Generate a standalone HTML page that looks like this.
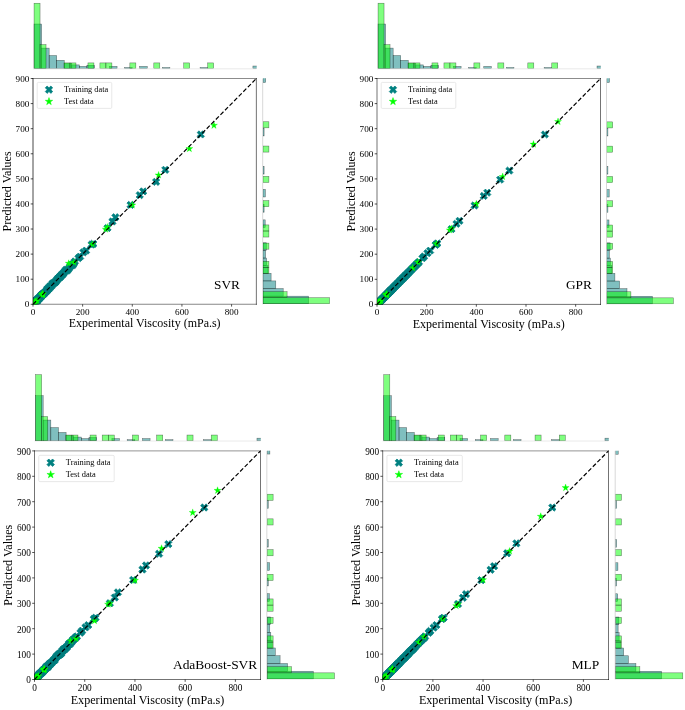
<!DOCTYPE html><html><head><meta charset="utf-8"><title>Predicted vs Experimental Viscosity</title><style>html,body{margin:0;padding:0;background:#fff}svg{display:block}</style></head><body><svg width="685" height="710" viewBox="0 0 685 710" font-family="'Liberation Serif', 'Times New Roman', serif">
<rect width="685" height="710" fill="#fff"/>
<g>
<line x1="33" y1="68.8" x2="256.4" y2="68.8" stroke="#e4e4e4" stroke-width="0.8"/>
<line x1="262.7" y1="78.5" x2="262.7" y2="304.3" stroke="#d4d4d4" stroke-width="0.9"/>
<clipPath id="c0t"><rect x="33" y="0" width="223.7" height="68.6"/></clipPath>
<clipPath id="c0r"><rect x="263" y="78.3" width="90" height="225.8"/></clipPath>
<g clip-path="url(#c0t)" stroke="#000" stroke-opacity="0.55" stroke-width="0.5">
<rect x="34.05" y="24.02" width="7.55" height="44.58" fill="#008080" fill-opacity="0.5"/>
<rect x="41.6" y="48.11" width="7.55" height="20.49" fill="#008080" fill-opacity="0.5"/>
<rect x="49.14" y="55.51" width="7.55" height="13.09" fill="#008080" fill-opacity="0.5"/>
<rect x="56.69" y="60.3" width="7.55" height="8.3" fill="#008080" fill-opacity="0.5"/>
<rect x="64.24" y="63.6" width="7.55" height="5" fill="#008080" fill-opacity="0.5"/>
<rect x="71.78" y="64.9" width="7.55" height="3.7" fill="#008080" fill-opacity="0.5"/>
<rect x="79.33" y="66.4" width="7.55" height="2.2" fill="#008080" fill-opacity="0.5"/>
<rect x="86.88" y="65.3" width="7.55" height="3.3" fill="#008080" fill-opacity="0.5"/>
<rect x="109.52" y="66.4" width="7.55" height="2.2" fill="#008080" fill-opacity="0.5"/>
<rect x="124.61" y="67.5" width="7.55" height="1.1" fill="#008080" fill-opacity="0.5"/>
<rect x="139.7" y="66.4" width="7.55" height="2.2" fill="#008080" fill-opacity="0.5"/>
<rect x="162.34" y="67.5" width="7.55" height="1.1" fill="#008080" fill-opacity="0.5"/>
<rect x="200.08" y="67.5" width="7.55" height="1.1" fill="#008080" fill-opacity="0.5"/>
<rect x="252.9" y="66" width="7.55" height="2.6" fill="#008080" fill-opacity="0.5"/>
<rect x="34.05" y="3.23" width="5.99" height="65.37" fill="#00ff00" fill-opacity="0.5"/>
<rect x="40.04" y="44.61" width="5.99" height="23.99" fill="#00ff00" fill-opacity="0.5"/>
<rect x="63.99" y="62.9" width="5.99" height="5.7" fill="#00ff00" fill-opacity="0.5"/>
<rect x="69.97" y="62.9" width="5.99" height="5.7" fill="#00ff00" fill-opacity="0.5"/>
<rect x="87.94" y="62.9" width="5.99" height="5.7" fill="#00ff00" fill-opacity="0.5"/>
<rect x="99.91" y="62.9" width="5.99" height="5.7" fill="#00ff00" fill-opacity="0.5"/>
<rect x="105.9" y="62.9" width="5.99" height="5.7" fill="#00ff00" fill-opacity="0.5"/>
<rect x="129.85" y="62.9" width="5.99" height="5.7" fill="#00ff00" fill-opacity="0.5"/>
<rect x="153.8" y="62.9" width="5.99" height="5.7" fill="#00ff00" fill-opacity="0.5"/>
<rect x="183.73" y="62.9" width="5.99" height="5.7" fill="#00ff00" fill-opacity="0.5"/>
<rect x="207.68" y="62.9" width="5.99" height="5.7" fill="#00ff00" fill-opacity="0.5"/>
</g>
<g clip-path="url(#c0r)" stroke="#000" stroke-opacity="0.55" stroke-width="0.5">
<rect x="263" y="296.17" width="45.58" height="7.63" fill="#008080" fill-opacity="0.5"/>
<rect x="263" y="288.54" width="20.19" height="7.63" fill="#008080" fill-opacity="0.5"/>
<rect x="263" y="280.91" width="12.79" height="7.63" fill="#008080" fill-opacity="0.5"/>
<rect x="263" y="273.28" width="8.1" height="7.63" fill="#008080" fill-opacity="0.5"/>
<rect x="263" y="265.65" width="5" height="7.63" fill="#008080" fill-opacity="0.5"/>
<rect x="263" y="258.02" width="3.6" height="7.63" fill="#008080" fill-opacity="0.5"/>
<rect x="263" y="250.39" width="2.6" height="7.63" fill="#008080" fill-opacity="0.5"/>
<rect x="263" y="242.76" width="3.3" height="7.63" fill="#008080" fill-opacity="0.5"/>
<rect x="263" y="219.87" width="2.2" height="7.63" fill="#008080" fill-opacity="0.5"/>
<rect x="263" y="204.61" width="1.1" height="7.63" fill="#008080" fill-opacity="0.5"/>
<rect x="263" y="189.36" width="2.4" height="7.63" fill="#008080" fill-opacity="0.5"/>
<rect x="263" y="166.47" width="1.1" height="7.63" fill="#008080" fill-opacity="0.5"/>
<rect x="263" y="128.32" width="1.1" height="7.63" fill="#008080" fill-opacity="0.5"/>
<rect x="263" y="74.91" width="2.7" height="7.63" fill="#008080" fill-opacity="0.5"/>
<rect x="263" y="297.73" width="66.57" height="6.07" fill="#00ff00" fill-opacity="0.5"/>
<rect x="263" y="291.66" width="24.09" height="6.07" fill="#00ff00" fill-opacity="0.5"/>
<rect x="263" y="267.39" width="5.9" height="6.07" fill="#00ff00" fill-opacity="0.5"/>
<rect x="263" y="261.32" width="5.9" height="6.07" fill="#00ff00" fill-opacity="0.5"/>
<rect x="263" y="243.12" width="5.9" height="6.07" fill="#00ff00" fill-opacity="0.5"/>
<rect x="263" y="230.98" width="5.9" height="6.07" fill="#00ff00" fill-opacity="0.5"/>
<rect x="263" y="224.92" width="5.9" height="6.07" fill="#00ff00" fill-opacity="0.5"/>
<rect x="263" y="200.64" width="5.9" height="6.07" fill="#00ff00" fill-opacity="0.5"/>
<rect x="263" y="176.37" width="5.9" height="6.07" fill="#00ff00" fill-opacity="0.5"/>
<rect x="263" y="146.03" width="5.9" height="6.07" fill="#00ff00" fill-opacity="0.5"/>
<rect x="263" y="121.76" width="5.9" height="6.07" fill="#00ff00" fill-opacity="0.5"/>
</g>
<clipPath id="c0m"><rect x="33" y="78.5" width="223.4" height="225.8"/></clipPath>
<g clip-path="url(#c0m)">
<path d="M31.42 299.5 L33.25 301.33 L35.07 299.5 L36.9 301.33 L35.07 303.15 L36.9 304.98 L35.07 306.8 L33.25 304.98 L31.42 306.8 L29.6 304.98 L31.42 303.15 L29.6 301.33Z M31.8 300.36 L33.62 302.19 L35.44 300.36 L37.27 302.19 L35.44 304.01 L37.27 305.83 L35.44 307.66 L33.62 305.83 L31.8 307.66 L29.97 305.83 L31.8 304.01 L29.97 302.19Z M32.17 299.94 L33.99 301.76 L35.82 299.94 L37.64 301.76 L35.82 303.59 L37.64 305.41 L35.82 307.24 L33.99 305.41 L32.17 307.24 L30.34 305.41 L32.17 303.59 L30.34 301.76Z M32.54 299.86 L34.37 301.69 L36.19 299.86 L38.01 301.69 L36.19 303.51 L38.01 305.34 L36.19 307.16 L34.37 305.34 L32.54 307.16 L30.72 305.34 L32.54 303.51 L30.72 301.69Z M32.91 298.42 L34.74 300.24 L36.56 298.42 L38.39 300.24 L36.56 302.07 L38.39 303.89 L36.56 305.71 L34.74 303.89 L32.91 305.71 L31.09 303.89 L32.91 302.07 L31.09 300.24Z M33.29 299.79 L35.11 301.61 L36.93 299.79 L38.76 301.61 L36.93 303.44 L38.76 305.26 L36.93 307.09 L35.11 305.26 L33.29 307.09 L31.46 305.26 L33.29 303.44 L31.46 301.61Z M33.66 297.18 L35.48 299 L37.31 297.18 L39.13 299 L37.31 300.83 L39.13 302.65 L37.31 304.48 L35.48 302.65 L33.66 304.48 L31.83 302.65 L33.66 300.83 L31.83 299Z M34.03 298.19 L35.85 300.01 L37.68 298.19 L39.5 300.01 L37.68 301.83 L39.5 303.66 L37.68 305.48 L35.85 303.66 L34.03 305.48 L32.21 303.66 L34.03 301.83 L32.21 300.01Z M34.4 297.21 L36.23 299.04 L38.05 297.21 L39.88 299.04 L38.05 300.86 L39.88 302.69 L38.05 304.51 L36.23 302.69 L34.4 304.51 L32.58 302.69 L34.4 300.86 L32.58 299.04Z M34.78 297.15 L36.6 298.98 L38.42 297.15 L40.25 298.98 L38.42 300.8 L40.25 302.62 L38.42 304.45 L36.6 302.62 L34.78 304.45 L32.95 302.62 L34.78 300.8 L32.95 298.98Z M35.15 295.83 L36.97 297.65 L38.8 295.83 L40.62 297.65 L38.8 299.48 L40.62 301.3 L38.8 303.13 L36.97 301.3 L35.15 303.13 L33.32 301.3 L35.15 299.48 L33.32 297.65Z M35.52 297.4 L37.34 299.22 L39.17 297.4 L40.99 299.22 L39.17 301.05 L40.99 302.87 L39.17 304.69 L37.34 302.87 L35.52 304.69 L33.7 302.87 L35.52 301.05 L33.7 299.22Z M35.89 296.06 L37.72 297.89 L39.54 296.06 L41.36 297.89 L39.54 299.71 L41.36 301.54 L39.54 303.36 L37.72 301.54 L35.89 303.36 L34.07 301.54 L35.89 299.71 L34.07 297.89Z M36.26 295.72 L38.09 297.54 L39.91 295.72 L41.74 297.54 L39.91 299.37 L41.74 301.19 L39.91 303.02 L38.09 301.19 L36.26 303.02 L34.44 301.19 L36.26 299.37 L34.44 297.54Z M36.64 294.51 L38.46 296.33 L40.29 294.51 L42.11 296.33 L40.29 298.15 L42.11 299.98 L40.29 301.8 L38.46 299.98 L36.64 301.8 L34.81 299.98 L36.64 298.15 L34.81 296.33Z M37.01 295.36 L38.83 297.19 L40.66 295.36 L42.48 297.19 L40.66 299.01 L42.48 300.84 L40.66 302.66 L38.83 300.84 L37.01 302.66 L35.18 300.84 L37.01 299.01 L35.18 297.19Z M37.38 294.47 L39.21 296.3 L41.03 294.47 L42.85 296.3 L41.03 298.12 L42.85 299.95 L41.03 301.77 L39.21 299.95 L37.38 301.77 L35.56 299.95 L37.38 298.12 L35.56 296.3Z M37.75 294.49 L39.58 296.31 L41.4 294.49 L43.23 296.31 L41.4 298.14 L43.23 299.96 L41.4 301.78 L39.58 299.96 L37.75 301.78 L35.93 299.96 L37.75 298.14 L35.93 296.31Z M38.13 293.6 L39.95 295.43 L41.77 293.6 L43.6 295.43 L41.77 297.25 L43.6 299.08 L41.77 300.9 L39.95 299.08 L38.13 300.9 L36.3 299.08 L38.13 297.25 L36.3 295.43Z M38.5 292.93 L40.32 294.75 L42.15 292.93 L43.97 294.75 L42.15 296.58 L43.97 298.4 L42.15 300.23 L40.32 298.4 L38.5 300.23 L36.67 298.4 L38.5 296.58 L36.67 294.75Z M38.87 293.48 L40.69 295.31 L42.52 293.48 L44.34 295.31 L42.52 297.13 L44.34 298.95 L42.52 300.78 L40.69 298.95 L38.87 300.78 L37.05 298.95 L38.87 297.13 L37.05 295.31Z M39.24 291.87 L41.07 293.69 L42.89 291.87 L44.72 293.69 L42.89 295.51 L44.72 297.34 L42.89 299.16 L41.07 297.34 L39.24 299.16 L37.42 297.34 L39.24 295.51 L37.42 293.69Z M39.62 291.62 L41.44 293.45 L43.26 291.62 L45.09 293.45 L43.26 295.27 L45.09 297.1 L43.26 298.92 L41.44 297.1 L39.62 298.92 L37.79 297.1 L39.62 295.27 L37.79 293.45Z M39.99 291.47 L41.81 293.29 L43.64 291.47 L45.46 293.29 L43.64 295.12 L45.46 296.94 L43.64 298.76 L41.81 296.94 L39.99 298.76 L38.16 296.94 L39.99 295.12 L38.16 293.29Z M40.36 290.87 L42.18 292.7 L44.01 290.87 L45.83 292.7 L44.01 294.52 L45.83 296.34 L44.01 298.17 L42.18 296.34 L40.36 298.17 L38.54 296.34 L40.36 294.52 L38.54 292.7Z M40.73 291.37 L42.56 293.19 L44.38 291.37 L46.2 293.19 L44.38 295.02 L46.2 296.84 L44.38 298.67 L42.56 296.84 L40.73 298.67 L38.91 296.84 L40.73 295.02 L38.91 293.19Z M41.1 290.68 L42.93 292.51 L44.75 290.68 L46.58 292.51 L44.75 294.33 L46.58 296.16 L44.75 297.98 L42.93 296.16 L41.1 297.98 L39.28 296.16 L41.1 294.33 L39.28 292.51Z M41.48 290.76 L43.3 292.58 L45.13 290.76 L46.95 292.58 L45.13 294.4 L46.95 296.23 L45.13 298.05 L43.3 296.23 L41.48 298.05 L39.65 296.23 L41.48 294.4 L39.65 292.58Z M41.85 290.01 L43.67 291.84 L45.5 290.01 L47.32 291.84 L45.5 293.66 L47.32 295.48 L45.5 297.31 L43.67 295.48 L41.85 297.31 L40.03 295.48 L41.85 293.66 L40.03 291.84Z M42.22 289.19 L44.05 291.02 L45.87 289.19 L47.69 291.02 L45.87 292.84 L47.69 294.67 L45.87 296.49 L44.05 294.67 L42.22 296.49 L40.4 294.67 L42.22 292.84 L40.4 291.02Z M42.59 289.49 L44.42 291.32 L46.24 289.49 L48.07 291.32 L46.24 293.14 L48.07 294.97 L46.24 296.79 L44.42 294.97 L42.59 296.79 L40.77 294.97 L42.59 293.14 L40.77 291.32Z M42.97 288.95 L44.79 290.78 L46.61 288.95 L48.44 290.78 L46.61 292.6 L48.44 294.43 L46.61 296.25 L44.79 294.43 L42.97 296.25 L41.14 294.43 L42.97 292.6 L41.14 290.78Z M43.34 288.74 L45.16 290.56 L46.99 288.74 L48.81 290.56 L46.99 292.39 L48.81 294.21 L46.99 296.03 L45.16 294.21 L43.34 296.03 L41.51 294.21 L43.34 292.39 L41.51 290.56Z M43.71 288.45 L45.54 290.27 L47.36 288.45 L49.18 290.27 L47.36 292.1 L49.18 293.92 L47.36 295.74 L45.54 293.92 L43.71 295.74 L41.89 293.92 L43.71 292.1 L41.89 290.27Z M44.08 287.98 L45.91 289.8 L47.73 287.98 L49.56 289.8 L47.73 291.62 L49.56 293.45 L47.73 295.27 L45.91 293.45 L44.08 295.27 L42.26 293.45 L44.08 291.62 L42.26 289.8Z M44.46 287.24 L46.28 289.06 L48.1 287.24 L49.93 289.06 L48.1 290.88 L49.93 292.71 L48.1 294.53 L46.28 292.71 L44.46 294.53 L42.63 292.71 L44.46 290.88 L42.63 289.06Z M44.83 287.47 L46.65 289.29 L48.48 287.47 L50.3 289.29 L48.48 291.12 L50.3 292.94 L48.48 294.77 L46.65 292.94 L44.83 294.77 L43 292.94 L44.83 291.12 L43 289.29Z M45.2 286.35 L47.02 288.17 L48.85 286.35 L50.67 288.17 L48.85 290 L50.67 291.82 L48.85 293.64 L47.02 291.82 L45.2 293.64 L43.38 291.82 L45.2 290 L43.38 288.17Z M45.57 285.18 L47.4 287.01 L49.22 285.18 L51.05 287.01 L49.22 288.83 L51.05 290.66 L49.22 292.48 L47.4 290.66 L45.57 292.48 L43.75 290.66 L45.57 288.83 L43.75 287.01Z M45.95 285.31 L47.77 287.14 L49.59 285.31 L51.42 287.14 L49.59 288.96 L51.42 290.79 L49.59 292.61 L47.77 290.79 L45.95 292.61 L44.12 290.79 L45.95 288.96 L44.12 287.14Z M46.07 285.7 L47.89 287.53 L49.72 285.7 L51.54 287.53 L49.72 289.35 L51.54 291.18 L49.72 293 L47.89 291.18 L46.07 293 L44.24 291.18 L46.07 289.35 L44.24 287.53Z M46.69 285.46 L48.51 287.29 L50.34 285.46 L52.16 287.29 L50.34 289.11 L52.16 290.93 L50.34 292.76 L48.51 290.93 L46.69 292.76 L44.87 290.93 L46.69 289.11 L44.87 287.29Z M47.31 284.76 L49.13 286.58 L50.96 284.76 L52.78 286.58 L50.96 288.4 L52.78 290.23 L50.96 292.05 L49.13 290.23 L47.31 292.05 L45.49 290.23 L47.31 288.4 L45.49 286.58Z M47.93 282.78 L49.75 284.61 L51.58 282.78 L53.4 284.61 L51.58 286.43 L53.4 288.26 L51.58 290.08 L49.75 288.26 L47.93 290.08 L46.11 288.26 L47.93 286.43 L46.11 284.61Z M48.55 283.06 L50.38 284.89 L52.2 283.06 L54.02 284.89 L52.2 286.71 L54.02 288.53 L52.2 290.36 L50.38 288.53 L48.55 290.36 L46.73 288.53 L48.55 286.71 L46.73 284.89Z M49.17 282.81 L51 284.64 L52.82 282.81 L54.64 284.64 L52.82 286.46 L54.64 288.29 L52.82 290.11 L51 288.29 L49.17 290.11 L47.35 288.29 L49.17 286.46 L47.35 284.64Z M49.79 281.73 L51.62 283.55 L53.44 281.73 L55.27 283.55 L53.44 285.38 L55.27 287.2 L53.44 289.03 L51.62 287.2 L49.79 289.03 L47.97 287.2 L49.79 285.38 L47.97 283.55Z M50.41 280.05 L52.24 281.87 L54.06 280.05 L55.89 281.87 L54.06 283.7 L55.89 285.52 L54.06 287.35 L52.24 285.52 L50.41 287.35 L48.59 285.52 L50.41 283.7 L48.59 281.87Z M51.03 280.51 L52.86 282.34 L54.68 280.51 L56.51 282.34 L54.68 284.16 L56.51 285.99 L54.68 287.81 L52.86 285.99 L51.03 287.81 L49.21 285.99 L51.03 284.16 L49.21 282.34Z M51.65 279.61 L53.48 281.44 L55.3 279.61 L57.13 281.44 L55.3 283.26 L57.13 285.09 L55.3 286.91 L53.48 285.09 L51.65 286.91 L49.83 285.09 L51.65 283.26 L49.83 281.44Z M52.27 279.16 L54.1 280.98 L55.92 279.16 L57.75 280.98 L55.92 282.81 L57.75 284.63 L55.92 286.46 L54.1 284.63 L52.27 286.46 L50.45 284.63 L52.27 282.81 L50.45 280.98Z M52.9 278.89 L54.72 280.72 L56.54 278.89 L58.37 280.72 L56.54 282.54 L58.37 284.37 L56.54 286.19 L54.72 284.37 L52.9 286.19 L51.07 284.37 L52.9 282.54 L51.07 280.72Z M53.52 278.7 L55.34 280.53 L57.16 278.7 L58.99 280.53 L57.16 282.35 L58.99 284.17 L57.16 286 L55.34 284.17 L53.52 286 L51.69 284.17 L53.52 282.35 L51.69 280.53Z M54.14 277.64 L55.96 279.46 L57.78 277.64 L59.61 279.46 L57.78 281.29 L59.61 283.11 L57.78 284.93 L55.96 283.11 L54.14 284.93 L52.31 283.11 L54.14 281.29 L52.31 279.46Z M54.76 276.93 L56.58 278.76 L58.41 276.93 L60.23 278.76 L58.41 280.58 L60.23 282.41 L58.41 284.23 L56.58 282.41 L54.76 284.23 L52.93 282.41 L54.76 280.58 L52.93 278.76Z M55.38 275.87 L57.2 277.69 L59.03 275.87 L60.85 277.69 L59.03 279.51 L60.85 281.34 L59.03 283.16 L57.2 281.34 L55.38 283.16 L53.55 281.34 L55.38 279.51 L53.55 277.69Z M56 275.1 L57.82 276.92 L59.65 275.1 L61.47 276.92 L59.65 278.75 L61.47 280.57 L59.65 282.4 L57.82 280.57 L56 282.4 L54.17 280.57 L56 278.75 L54.17 276.92Z M56.62 274.42 L58.44 276.25 L60.27 274.42 L62.09 276.25 L60.27 278.07 L62.09 279.89 L60.27 281.72 L58.44 279.89 L56.62 281.72 L54.79 279.89 L56.62 278.07 L54.79 276.25Z M57.24 274.15 L59.06 275.97 L60.89 274.15 L62.71 275.97 L60.89 277.8 L62.71 279.62 L60.89 281.45 L59.06 279.62 L57.24 281.45 L55.41 279.62 L57.24 277.8 L55.41 275.97Z M57.86 273.19 L59.68 275.02 L61.51 273.19 L63.33 275.02 L61.51 276.84 L63.33 278.67 L61.51 280.49 L59.68 278.67 L57.86 280.49 L56.04 278.67 L57.86 276.84 L56.04 275.02Z M58.48 273.47 L60.3 275.29 L62.13 273.47 L63.95 275.29 L62.13 277.12 L63.95 278.94 L62.13 280.77 L60.3 278.94 L58.48 280.77 L56.66 278.94 L58.48 277.12 L56.66 275.29Z M59.1 271.74 L60.92 273.56 L62.75 271.74 L64.57 273.56 L62.75 275.38 L64.57 277.21 L62.75 279.03 L60.92 277.21 L59.1 279.03 L57.28 277.21 L59.1 275.38 L57.28 273.56Z M59.72 271.52 L61.55 273.34 L63.37 271.52 L65.19 273.34 L63.37 275.16 L65.19 276.99 L63.37 278.81 L61.55 276.99 L59.72 278.81 L57.9 276.99 L59.72 275.16 L57.9 273.34Z M60.34 271.34 L62.17 273.16 L63.99 271.34 L65.81 273.16 L63.99 274.99 L65.81 276.81 L63.99 278.63 L62.17 276.81 L60.34 278.63 L58.52 276.81 L60.34 274.99 L58.52 273.16Z M60.96 270.28 L62.79 272.1 L64.61 270.28 L66.44 272.1 L64.61 273.92 L66.44 275.75 L64.61 277.57 L62.79 275.75 L60.96 277.57 L59.14 275.75 L60.96 273.92 L59.14 272.1Z M61.58 269.96 L63.41 271.78 L65.23 269.96 L67.06 271.78 L65.23 273.61 L67.06 275.43 L65.23 277.26 L63.41 275.43 L61.58 277.26 L59.76 275.43 L61.58 273.61 L59.76 271.78Z M62.2 268.67 L64.03 270.49 L65.85 268.67 L67.68 270.49 L65.85 272.31 L67.68 274.14 L65.85 275.96 L64.03 274.14 L62.2 275.96 L60.38 274.14 L62.2 272.31 L60.38 270.49Z M63.2 267.45 L65.02 269.27 L66.84 267.45 L68.67 269.27 L66.84 271.1 L68.67 272.92 L66.84 274.74 L65.02 272.92 L63.2 274.74 L61.37 272.92 L63.2 271.1 L61.37 269.27Z M64.19 266.08 L66.01 267.9 L67.84 266.08 L69.66 267.9 L67.84 269.73 L69.66 271.55 L67.84 273.37 L66.01 271.55 L64.19 273.37 L62.37 271.55 L64.19 269.73 L62.37 267.9Z M65.18 267.05 L67.01 268.87 L68.83 267.05 L70.65 268.87 L68.83 270.7 L70.65 272.52 L68.83 274.35 L67.01 272.52 L65.18 274.35 L63.36 272.52 L65.18 270.7 L63.36 268.87Z M66.18 266.07 L68 267.9 L69.82 266.07 L71.65 267.9 L69.82 269.72 L71.65 271.55 L69.82 273.37 L68 271.55 L66.18 273.37 L64.35 271.55 L66.18 269.72 L64.35 267.9Z M67.17 264.55 L68.99 266.38 L70.82 264.55 L72.64 266.38 L70.82 268.2 L72.64 270.02 L70.82 271.85 L68.99 270.02 L67.17 271.85 L65.34 270.02 L67.17 268.2 L65.34 266.38Z M68.16 263.18 L69.99 265.01 L71.81 263.18 L73.63 265.01 L71.81 266.83 L73.63 268.65 L71.81 270.48 L69.99 268.65 L68.16 270.48 L66.34 268.65 L68.16 266.83 L66.34 265.01Z M69.15 261.78 L70.98 263.61 L72.8 261.78 L74.63 263.61 L72.8 265.43 L74.63 267.25 L72.8 269.08 L70.98 267.25 L69.15 269.08 L67.33 267.25 L69.15 265.43 L67.33 263.61Z M70.15 261.09 L71.97 262.91 L73.8 261.09 L75.62 262.91 L73.8 264.74 L75.62 266.56 L73.8 268.38 L71.97 266.56 L70.15 268.38 L68.32 266.56 L70.15 264.74 L68.32 262.91Z M71.14 261.37 L72.96 263.2 L74.79 261.37 L76.61 263.2 L74.79 265.02 L76.61 266.85 L74.79 268.67 L72.96 266.85 L71.14 268.67 L69.32 266.85 L71.14 265.02 L69.32 263.2Z M72.13 259.42 L73.96 261.25 L75.78 259.42 L77.61 261.25 L75.78 263.07 L77.61 264.9 L75.78 266.72 L73.96 264.9 L72.13 266.72 L70.31 264.9 L72.13 263.07 L70.31 261.25Z M73.13 257.79 L74.95 259.62 L76.77 257.79 L78.6 259.62 L76.77 261.44 L78.6 263.27 L76.77 265.09 L74.95 263.27 L73.13 265.09 L71.3 263.27 L73.13 261.44 L71.3 259.62Z M76.6 254.49 L78.42 256.31 L80.25 254.49 L82.07 256.31 L80.25 258.14 L82.07 259.96 L80.25 261.78 L78.42 259.96 L76.6 261.78 L74.78 259.96 L76.6 258.14 L74.78 256.31Z M78.34 252.98 L80.16 254.81 L81.99 252.98 L83.81 254.81 L81.99 256.63 L83.81 258.46 L81.99 260.28 L80.16 258.46 L78.34 260.28 L76.51 258.46 L78.34 256.63 L76.51 254.81Z M81.56 248.72 L83.39 250.54 L85.21 248.72 L87.04 250.54 L85.21 252.37 L87.04 254.19 L85.21 256.01 L83.39 254.19 L81.56 256.01 L79.74 254.19 L81.56 252.37 L79.74 250.54Z M84.3 246.96 L86.12 248.79 L87.94 246.96 L89.77 248.79 L87.94 250.61 L89.77 252.43 L87.94 254.26 L86.12 252.43 L84.3 254.26 L82.47 252.43 L84.3 250.61 L82.47 248.79Z M89.76 240.94 L91.58 242.76 L93.4 240.94 L95.23 242.76 L93.4 244.59 L95.23 246.41 L93.4 248.24 L91.58 246.41 L89.76 248.24 L87.93 246.41 L89.76 244.59 L87.93 242.76Z M91.49 240.19 L93.32 242.01 L95.14 240.19 L96.97 242.01 L95.14 243.84 L96.97 245.66 L95.14 247.48 L93.32 245.66 L91.49 247.48 L89.67 245.66 L91.49 243.84 L89.67 242.01Z M105.64 224.38 L107.47 226.21 L109.29 224.38 L111.12 226.21 L109.29 228.03 L111.12 229.85 L109.29 231.68 L107.47 229.85 L105.64 231.68 L103.82 229.85 L105.64 228.03 L103.82 226.21Z M110.61 217.86 L112.43 219.68 L114.26 217.86 L116.08 219.68 L114.26 221.51 L116.08 223.33 L114.26 225.16 L112.43 223.33 L110.61 225.16 L108.78 223.33 L110.61 221.51 L108.78 219.68Z M113.59 213.59 L115.41 215.42 L117.23 213.59 L119.06 215.42 L117.23 217.24 L119.06 219.07 L117.23 220.89 L115.41 219.07 L113.59 220.89 L111.76 219.07 L113.59 217.24 L111.76 215.42Z M128.73 201.3 L130.55 203.12 L132.38 201.3 L134.2 203.12 L132.38 204.95 L134.2 206.77 L132.38 208.6 L130.55 206.77 L128.73 208.6 L126.9 206.77 L128.73 204.95 L126.9 203.12Z M137.91 191.51 L139.74 193.34 L141.56 191.51 L143.38 193.34 L141.56 195.16 L143.38 196.99 L141.56 198.81 L139.74 196.99 L137.91 198.81 L136.09 196.99 L137.91 195.16 L136.09 193.34Z M141.39 187.75 L143.21 189.58 L145.03 187.75 L146.86 189.58 L145.03 191.4 L146.86 193.22 L145.03 195.05 L143.21 193.22 L141.39 195.05 L139.56 193.22 L141.39 191.4 L139.56 189.58Z M154.29 178.22 L156.12 180.04 L157.94 178.22 L159.77 180.04 L157.94 181.87 L159.77 183.69 L157.94 185.51 L156.12 183.69 L154.29 185.51 L152.47 183.69 L154.29 181.87 L152.47 180.04Z M163.48 166.18 L165.3 168 L167.13 166.18 L168.95 168 L167.13 169.82 L168.95 171.65 L167.13 173.47 L165.3 171.65 L163.48 173.47 L161.65 171.65 L163.48 169.82 L161.65 168Z M198.97 130.8 L200.8 132.62 L202.62 130.8 L204.45 132.62 L202.62 134.45 L204.45 136.27 L202.62 138.1 L200.8 136.27 L198.97 138.1 L197.15 136.27 L198.97 134.45 L197.15 132.62Z" fill="#008080" stroke="#008080" stroke-width="0.7" stroke-linejoin="round"/>
<path d="M33.5 300.1 L34.33 302.66 L37.01 302.66 L34.84 304.23 L35.67 306.79 L33.5 305.21 L31.32 306.79 L32.15 304.23 L29.98 302.66 L32.67 302.66Z M33.62 299.85 L34.45 302.4 L37.14 302.4 L34.96 303.98 L35.79 306.54 L33.62 304.96 L31.45 306.54 L32.28 303.98 L30.1 302.4 L32.79 302.4Z M33.74 299.85 L34.57 302.4 L37.26 302.4 L35.09 303.98 L35.92 306.54 L33.74 304.96 L31.57 306.54 L32.4 303.98 L30.23 302.4 L32.91 302.4Z M33.87 299.6 L34.7 302.15 L37.39 302.15 L35.21 303.73 L36.04 306.29 L33.87 304.71 L31.69 306.29 L32.53 303.73 L30.35 302.15 L33.04 302.15Z M33.99 299.47 L34.82 302.03 L37.51 302.03 L35.34 303.61 L36.17 306.16 L33.99 304.58 L31.82 306.16 L32.65 303.61 L30.48 302.03 L33.16 302.03Z M34.24 299.35 L35.07 301.9 L37.76 301.9 L35.58 303.48 L36.41 306.04 L34.24 304.46 L32.07 306.04 L32.9 303.48 L30.72 301.9 L33.41 301.9Z M34.49 298.97 L35.32 301.53 L38.01 301.53 L35.83 303.11 L36.66 305.66 L34.49 304.08 L32.32 305.66 L33.15 303.11 L30.97 301.53 L33.66 301.53Z M34.74 298.85 L35.57 301.4 L38.25 301.4 L36.08 302.98 L36.91 305.54 L34.74 303.96 L32.56 305.54 L33.39 302.98 L31.22 301.4 L33.91 301.4Z M34.99 298.47 L35.82 301.02 L38.5 301.02 L36.33 302.6 L37.16 305.16 L34.99 303.58 L32.81 305.16 L33.64 302.6 L31.47 301.02 L34.16 301.02Z M35.23 298.34 L36.06 300.9 L38.75 300.9 L36.58 302.48 L37.41 305.03 L35.23 303.45 L33.06 305.03 L33.89 302.48 L31.72 300.9 L34.4 300.9Z M35.48 297.84 L36.31 300.4 L39 300.4 L36.83 301.98 L37.66 304.53 L35.48 302.95 L33.31 304.53 L34.14 301.98 L31.96 300.4 L34.65 300.4Z M36.97 297.09 L37.8 299.64 L40.49 299.64 L38.32 301.22 L39.15 303.78 L36.97 302.2 L34.8 303.78 L35.63 301.22 L33.45 299.64 L36.14 299.64Z M41.94 291.32 L42.77 293.87 L45.45 293.87 L43.28 295.45 L44.11 298.01 L41.94 296.43 L39.76 298.01 L40.59 295.45 L38.42 293.87 L41.11 293.87Z M42.43 290.82 L43.26 293.37 L45.95 293.37 L43.78 294.95 L44.61 297.51 L42.43 295.93 L40.26 297.51 L41.09 294.95 L38.92 293.37 L41.6 293.37Z M42.56 290.57 L43.39 293.12 L46.07 293.12 L43.9 294.7 L44.73 297.26 L42.56 295.68 L40.38 297.26 L41.21 294.7 L39.04 293.12 L41.73 293.12Z M42.93 290.32 L43.76 292.87 L46.45 292.87 L44.27 294.45 L45.1 297.01 L42.93 295.43 L40.76 297.01 L41.59 294.45 L39.41 292.87 L42.1 292.87Z M68.74 259.71 L69.57 262.26 L72.26 262.26 L70.09 263.84 L70.92 266.4 L68.74 264.82 L66.57 266.4 L67.4 263.84 L65.23 262.26 L67.91 262.26Z M73.96 258.7 L74.79 261.26 L77.47 261.26 L75.3 262.84 L76.13 265.39 L73.96 263.81 L71.78 265.39 L72.61 262.84 L70.44 261.26 L73.13 261.26Z M92.33 240.64 L93.16 243.19 L95.84 243.19 L93.67 244.77 L94.5 247.33 L92.33 245.75 L90.15 247.33 L90.98 244.77 L88.81 243.19 L91.49 243.19Z M105.73 225.59 L106.56 228.14 L109.25 228.14 L107.07 229.72 L107.9 232.28 L105.73 230.7 L103.56 232.28 L104.39 229.72 L102.21 228.14 L104.9 228.14Z M107.47 223.58 L108.3 226.13 L110.98 226.13 L108.81 227.71 L109.64 230.27 L107.47 228.69 L105.29 230.27 L106.12 227.71 L103.95 226.13 L106.64 226.13Z M132.29 201.5 L133.12 204.06 L135.81 204.06 L133.63 205.64 L134.46 208.19 L132.29 206.61 L130.12 208.19 L130.95 205.64 L128.77 204.06 L131.46 204.06Z M158.6 171.39 L159.43 173.95 L162.12 173.95 L159.94 175.53 L160.77 178.08 L158.6 176.5 L156.43 178.08 L157.26 175.53 L155.08 173.95 L157.77 173.95Z M189.38 145.05 L190.21 147.61 L192.9 147.61 L190.72 149.19 L191.55 151.74 L189.38 150.16 L187.21 151.74 L188.04 149.19 L185.86 147.61 L188.55 147.61Z M213.95 121.72 L214.78 124.27 L217.47 124.27 L215.3 125.85 L216.13 128.41 L213.95 126.83 L211.78 128.41 L212.61 125.85 L210.44 124.27 L213.12 124.27Z" fill="#00ff00" stroke="#00ff00" stroke-width="0.3"/>
<line x1="33" y1="304.3" x2="256.4" y2="78.5" stroke="#000" stroke-width="1.2" stroke-dasharray="4.3 2.2"/>
</g>
<line x1="33" y1="78" x2="33" y2="304.8" stroke="#000" stroke-opacity="0.8" stroke-width="0.9"/>
<line x1="32.5" y1="78.5" x2="256.9" y2="78.5" stroke="#000" stroke-opacity="0.45" stroke-width="1.0"/>
<line x1="256.4" y1="78" x2="256.4" y2="304.8" stroke="#000" stroke-opacity="0.5" stroke-width="1.1"/>
<line x1="32.5" y1="304.3" x2="256.9" y2="304.3" stroke="#000" stroke-opacity="0.47" stroke-width="1.1"/>
<path d="M33 304.3h-2.3 M33 279.21h-2.3 M33 254.12h-2.3 M33 229.03h-2.3 M33 203.94h-2.3 M33 178.86h-2.3 M33 153.77h-2.3 M33 128.68h-2.3 M33 103.59h-2.3 M33 78.5h-2.3 M33 304.3v2.3 M82.64 304.3v2.3 M132.29 304.3v2.3 M181.93 304.3v2.3 M231.58 304.3v2.3" stroke="#000" stroke-opacity="0.85" stroke-width="0.8" fill="none"/>
<g font-size="9.2" fill="#000">
<text x="29.4" y="307.33" text-anchor="end">0</text>
<text x="29.4" y="282.25" text-anchor="end">100</text>
<text x="29.4" y="257.16" text-anchor="end">200</text>
<text x="29.4" y="232.07" text-anchor="end">300</text>
<text x="29.4" y="206.98" text-anchor="end">400</text>
<text x="29.4" y="181.89" text-anchor="end">500</text>
<text x="29.4" y="156.8" text-anchor="end">600</text>
<text x="29.4" y="131.71" text-anchor="end">700</text>
<text x="29.4" y="106.62" text-anchor="end">800</text>
<text x="29.4" y="81.53" text-anchor="end">900</text>
<text x="33" y="314.75" text-anchor="middle">0</text>
<text x="82.64" y="314.75" text-anchor="middle">200</text>
<text x="132.29" y="314.75" text-anchor="middle">400</text>
<text x="181.93" y="314.75" text-anchor="middle">600</text>
<text x="231.58" y="314.75" text-anchor="middle">800</text>
</g>
<text x="144.7" y="327.39" text-anchor="middle" font-size="11.99" fill="#000">Experimental Viscosity (mPa.s)</text>
<text transform="translate(10.81 191.4) rotate(-90)" text-anchor="middle" font-size="11.99" fill="#000">Predicted Values</text>
<text x="239.9" y="289.3" text-anchor="end" font-size="13.29" fill="#000">SVR</text>
<rect x="37.2" y="82.4" width="74.57" height="25.99" rx="1.2" fill="#fff" fill-opacity="0.8" stroke="#d9d9d9" stroke-width="0.6"/>
<path d="M47.14 86 L48.99 87.85 L50.84 86 L52.69 87.85 L50.84 89.7 L52.69 91.54 L50.84 93.39 L48.99 91.54 L47.14 93.39 L45.29 91.54 L47.14 89.7 L45.29 87.85Z" fill="#008080" stroke="#008080" stroke-width="0.7" stroke-linejoin="round"/>
<path d="M48.99 97.59 L49.87 100.29 L52.7 100.29 L50.41 101.95 L51.28 104.64 L48.99 102.98 L46.7 104.64 L47.58 101.95 L45.29 100.29 L48.12 100.29Z" fill="#00ff00" stroke="#00ff00" stroke-width="0.5" stroke-linejoin="round"/>
<text x="63.99" y="91.85" font-size="8.3" fill="#000">Training data</text>
<text x="63.99" y="103.84" font-size="8.3" fill="#000">Test data</text>
</g>
<g>
<line x1="377" y1="68.8" x2="600.5" y2="68.8" stroke="#e4e4e4" stroke-width="0.8"/>
<line x1="606.5" y1="78.5" x2="606.5" y2="304.4" stroke="#d4d4d4" stroke-width="0.9"/>
<clipPath id="c1t"><rect x="377" y="0" width="223.8" height="68.6"/></clipPath>
<clipPath id="c1r"><rect x="606.8" y="78.3" width="90" height="225.9"/></clipPath>
<g clip-path="url(#c1t)" stroke="#000" stroke-opacity="0.55" stroke-width="0.5">
<rect x="378.05" y="24" width="7.55" height="44.6" fill="#008080" fill-opacity="0.5"/>
<rect x="385.6" y="48.1" width="7.55" height="20.5" fill="#008080" fill-opacity="0.5"/>
<rect x="393.15" y="55.5" width="7.55" height="13.1" fill="#008080" fill-opacity="0.5"/>
<rect x="400.7" y="60.3" width="7.55" height="8.3" fill="#008080" fill-opacity="0.5"/>
<rect x="408.25" y="63.6" width="7.55" height="5" fill="#008080" fill-opacity="0.5"/>
<rect x="415.8" y="64.9" width="7.55" height="3.7" fill="#008080" fill-opacity="0.5"/>
<rect x="423.35" y="66.4" width="7.55" height="2.2" fill="#008080" fill-opacity="0.5"/>
<rect x="430.9" y="65.3" width="7.55" height="3.3" fill="#008080" fill-opacity="0.5"/>
<rect x="453.55" y="66.4" width="7.55" height="2.2" fill="#008080" fill-opacity="0.5"/>
<rect x="468.65" y="67.5" width="7.55" height="1.1" fill="#008080" fill-opacity="0.5"/>
<rect x="483.75" y="66.4" width="7.55" height="2.2" fill="#008080" fill-opacity="0.5"/>
<rect x="506.4" y="67.5" width="7.55" height="1.1" fill="#008080" fill-opacity="0.5"/>
<rect x="544.15" y="67.5" width="7.55" height="1.1" fill="#008080" fill-opacity="0.5"/>
<rect x="597" y="66" width="7.55" height="2.6" fill="#008080" fill-opacity="0.5"/>
<rect x="378.05" y="3.2" width="5.99" height="65.4" fill="#00ff00" fill-opacity="0.5"/>
<rect x="384.04" y="44.6" width="5.99" height="24" fill="#00ff00" fill-opacity="0.5"/>
<rect x="408" y="62.9" width="5.99" height="5.7" fill="#00ff00" fill-opacity="0.5"/>
<rect x="413.99" y="62.9" width="5.99" height="5.7" fill="#00ff00" fill-opacity="0.5"/>
<rect x="431.96" y="62.9" width="5.99" height="5.7" fill="#00ff00" fill-opacity="0.5"/>
<rect x="443.94" y="62.9" width="5.99" height="5.7" fill="#00ff00" fill-opacity="0.5"/>
<rect x="449.93" y="62.9" width="5.99" height="5.7" fill="#00ff00" fill-opacity="0.5"/>
<rect x="473.89" y="62.9" width="5.99" height="5.7" fill="#00ff00" fill-opacity="0.5"/>
<rect x="497.85" y="62.9" width="5.99" height="5.7" fill="#00ff00" fill-opacity="0.5"/>
<rect x="527.8" y="62.9" width="5.99" height="5.7" fill="#00ff00" fill-opacity="0.5"/>
<rect x="551.76" y="62.9" width="5.99" height="5.7" fill="#00ff00" fill-opacity="0.5"/>
</g>
<g clip-path="url(#c1r)" stroke="#000" stroke-opacity="0.55" stroke-width="0.5">
<rect x="606.8" y="296.27" width="45.6" height="7.63" fill="#008080" fill-opacity="0.5"/>
<rect x="606.8" y="288.63" width="20.2" height="7.63" fill="#008080" fill-opacity="0.5"/>
<rect x="606.8" y="281" width="12.8" height="7.63" fill="#008080" fill-opacity="0.5"/>
<rect x="606.8" y="273.37" width="8.1" height="7.63" fill="#008080" fill-opacity="0.5"/>
<rect x="606.8" y="265.73" width="5" height="7.63" fill="#008080" fill-opacity="0.5"/>
<rect x="606.8" y="258.1" width="3.6" height="7.63" fill="#008080" fill-opacity="0.5"/>
<rect x="606.8" y="250.47" width="2.6" height="7.63" fill="#008080" fill-opacity="0.5"/>
<rect x="606.8" y="242.84" width="3.3" height="7.63" fill="#008080" fill-opacity="0.5"/>
<rect x="606.8" y="219.94" width="2.2" height="7.63" fill="#008080" fill-opacity="0.5"/>
<rect x="606.8" y="204.67" width="1.1" height="7.63" fill="#008080" fill-opacity="0.5"/>
<rect x="606.8" y="189.4" width="2.4" height="7.63" fill="#008080" fill-opacity="0.5"/>
<rect x="606.8" y="166.51" width="1.1" height="7.63" fill="#008080" fill-opacity="0.5"/>
<rect x="606.8" y="128.34" width="1.1" height="7.63" fill="#008080" fill-opacity="0.5"/>
<rect x="606.8" y="74.91" width="2.7" height="7.63" fill="#008080" fill-opacity="0.5"/>
<rect x="606.8" y="297.83" width="66.6" height="6.07" fill="#00ff00" fill-opacity="0.5"/>
<rect x="606.8" y="291.76" width="24.1" height="6.07" fill="#00ff00" fill-opacity="0.5"/>
<rect x="606.8" y="267.49" width="5.9" height="6.07" fill="#00ff00" fill-opacity="0.5"/>
<rect x="606.8" y="261.42" width="5.9" height="6.07" fill="#00ff00" fill-opacity="0.5"/>
<rect x="606.8" y="243.22" width="5.9" height="6.07" fill="#00ff00" fill-opacity="0.5"/>
<rect x="606.8" y="231.08" width="5.9" height="6.07" fill="#00ff00" fill-opacity="0.5"/>
<rect x="606.8" y="225.02" width="5.9" height="6.07" fill="#00ff00" fill-opacity="0.5"/>
<rect x="606.8" y="200.74" width="5.9" height="6.07" fill="#00ff00" fill-opacity="0.5"/>
<rect x="606.8" y="176.47" width="5.9" height="6.07" fill="#00ff00" fill-opacity="0.5"/>
<rect x="606.8" y="146.13" width="5.9" height="6.07" fill="#00ff00" fill-opacity="0.5"/>
<rect x="606.8" y="121.86" width="5.9" height="6.07" fill="#00ff00" fill-opacity="0.5"/>
</g>
<clipPath id="c1m"><rect x="377" y="78.5" width="223.5" height="225.9"/></clipPath>
<g clip-path="url(#c1m)">
<path d="M375.42 300.5 L377.25 302.33 L379.07 300.5 L380.9 302.33 L379.07 304.15 L380.9 305.98 L379.07 307.8 L377.25 305.98 L375.42 307.8 L373.6 305.98 L375.42 304.15 L373.6 302.33Z M375.8 300.12 L377.62 301.95 L379.45 300.12 L381.27 301.95 L379.45 303.77 L381.27 305.6 L379.45 307.42 L377.62 305.6 L375.8 307.42 L373.97 305.6 L375.8 303.77 L373.97 301.95Z M376.17 299.77 L377.99 301.6 L379.82 299.77 L381.64 301.6 L379.82 303.42 L381.64 305.25 L379.82 307.07 L377.99 305.25 L376.17 307.07 L374.34 305.25 L376.17 303.42 L374.34 301.6Z M376.54 299.35 L378.37 301.18 L380.19 299.35 L382.02 301.18 L380.19 303 L382.02 304.83 L380.19 306.65 L378.37 304.83 L376.54 306.65 L374.72 304.83 L376.54 303 L374.72 301.18Z M376.91 299.01 L378.74 300.84 L380.56 299.01 L382.39 300.84 L380.56 302.66 L382.39 304.49 L380.56 306.31 L378.74 304.49 L376.91 306.31 L375.09 304.49 L376.91 302.66 L375.09 300.84Z M377.29 298.63 L379.11 300.45 L380.94 298.63 L382.76 300.45 L380.94 302.28 L382.76 304.1 L380.94 305.93 L379.11 304.1 L377.29 305.93 L375.46 304.1 L377.29 302.28 L375.46 300.45Z M377.66 298.23 L379.48 300.06 L381.31 298.23 L383.13 300.06 L381.31 301.88 L383.13 303.71 L381.31 305.53 L379.48 303.71 L377.66 305.53 L375.83 303.71 L377.66 301.88 L375.83 300.06Z M378.03 297.88 L379.86 299.7 L381.68 297.88 L383.51 299.7 L381.68 301.53 L383.51 303.35 L381.68 305.18 L379.86 303.35 L378.03 305.18 L376.21 303.35 L378.03 301.53 L376.21 299.7Z M378.4 297.5 L380.23 299.32 L382.05 297.5 L383.88 299.32 L382.05 301.15 L383.88 302.97 L382.05 304.8 L380.23 302.97 L378.4 304.8 L376.58 302.97 L378.4 301.15 L376.58 299.32Z M378.78 297.12 L380.6 298.95 L382.43 297.12 L384.25 298.95 L382.43 300.77 L384.25 302.6 L382.43 304.42 L380.6 302.6 L378.78 304.42 L376.95 302.6 L378.78 300.77 L376.95 298.95Z M379.15 296.73 L380.97 298.55 L382.8 296.73 L384.62 298.55 L382.8 300.38 L384.62 302.2 L382.8 304.03 L380.97 302.2 L379.15 304.03 L377.32 302.2 L379.15 300.38 L377.32 298.55Z M379.52 296.33 L381.35 298.16 L383.17 296.33 L385 298.16 L383.17 299.98 L385 301.81 L383.17 303.63 L381.35 301.81 L379.52 303.63 L377.7 301.81 L379.52 299.98 L377.7 298.16Z M379.89 295.98 L381.72 297.81 L383.54 295.98 L385.37 297.81 L383.54 299.63 L385.37 301.46 L383.54 303.28 L381.72 301.46 L379.89 303.28 L378.07 301.46 L379.89 299.63 L378.07 297.81Z M380.27 295.62 L382.09 297.44 L383.92 295.62 L385.74 297.44 L383.92 299.27 L385.74 301.09 L383.92 302.92 L382.09 301.09 L380.27 302.92 L378.44 301.09 L380.27 299.27 L378.44 297.44Z M380.64 295.22 L382.46 297.05 L384.29 295.22 L386.11 297.05 L384.29 298.87 L386.11 300.7 L384.29 302.52 L382.46 300.7 L380.64 302.52 L378.81 300.7 L380.64 298.87 L378.81 297.05Z M381.01 294.86 L382.84 296.68 L384.66 294.86 L386.49 296.68 L384.66 298.51 L386.49 300.33 L384.66 302.16 L382.84 300.33 L381.01 302.16 L379.19 300.33 L381.01 298.51 L379.19 296.68Z M381.38 294.48 L383.21 296.3 L385.03 294.48 L386.86 296.3 L385.03 298.13 L386.86 299.95 L385.03 301.78 L383.21 299.95 L381.38 301.78 L379.56 299.95 L381.38 298.13 L379.56 296.3Z M381.76 294.08 L383.58 295.91 L385.41 294.08 L387.23 295.91 L385.41 297.73 L387.23 299.56 L385.41 301.38 L383.58 299.56 L381.76 301.38 L379.93 299.56 L381.76 297.73 L379.93 295.91Z M382.13 293.73 L383.95 295.56 L385.78 293.73 L387.6 295.56 L385.78 297.38 L387.6 299.21 L385.78 301.03 L383.95 299.21 L382.13 301.03 L380.3 299.21 L382.13 297.38 L380.3 295.56Z M382.5 293.35 L384.33 295.17 L386.15 293.35 L387.98 295.17 L386.15 297 L387.98 298.82 L386.15 300.65 L384.33 298.82 L382.5 300.65 L380.68 298.82 L382.5 297 L380.68 295.17Z M382.87 292.98 L384.7 294.81 L386.52 292.98 L388.35 294.81 L386.52 296.63 L388.35 298.46 L386.52 300.28 L384.7 298.46 L382.87 300.28 L381.05 298.46 L382.87 296.63 L381.05 294.81Z M383.25 292.59 L385.07 294.42 L386.9 292.59 L388.72 294.42 L386.9 296.24 L388.72 298.07 L386.9 299.89 L385.07 298.07 L383.25 299.89 L381.42 298.07 L383.25 296.24 L381.42 294.42Z M383.62 292.21 L385.44 294.04 L387.27 292.21 L389.09 294.04 L387.27 295.86 L389.09 297.69 L387.27 299.51 L385.44 297.69 L383.62 299.51 L381.79 297.69 L383.62 295.86 L381.79 294.04Z M383.99 291.86 L385.82 293.68 L387.64 291.86 L389.47 293.68 L387.64 295.51 L389.47 297.33 L387.64 299.16 L385.82 297.33 L383.99 299.16 L382.17 297.33 L383.99 295.51 L382.17 293.68Z M384.36 291.47 L386.19 293.29 L388.01 291.47 L389.84 293.29 L388.01 295.12 L389.84 296.94 L388.01 298.77 L386.19 296.94 L384.36 298.77 L382.54 296.94 L384.36 295.12 L382.54 293.29Z M384.74 291.09 L386.56 292.92 L388.39 291.09 L390.21 292.92 L388.39 294.74 L390.21 296.57 L388.39 298.39 L386.56 296.57 L384.74 298.39 L382.91 296.57 L384.74 294.74 L382.91 292.92Z M385.11 290.72 L386.93 292.55 L388.76 290.72 L390.58 292.55 L388.76 294.37 L390.58 296.2 L388.76 298.02 L386.93 296.2 L385.11 298.02 L383.28 296.2 L385.11 294.37 L383.28 292.55Z M385.48 290.36 L387.31 292.18 L389.13 290.36 L390.96 292.18 L389.13 294.01 L390.96 295.83 L389.13 297.66 L387.31 295.83 L385.48 297.66 L383.66 295.83 L385.48 294.01 L383.66 292.18Z M385.85 289.98 L387.68 291.81 L389.5 289.98 L391.33 291.81 L389.5 293.63 L391.33 295.46 L389.5 297.28 L387.68 295.46 L385.85 297.28 L384.03 295.46 L385.85 293.63 L384.03 291.81Z M386.23 289.58 L388.05 291.41 L389.88 289.58 L391.7 291.41 L389.88 293.23 L391.7 295.06 L389.88 296.88 L388.05 295.06 L386.23 296.88 L384.4 295.06 L386.23 293.23 L384.4 291.41Z M386.6 289.21 L388.42 291.03 L390.25 289.21 L392.07 291.03 L390.25 292.86 L392.07 294.68 L390.25 296.51 L388.42 294.68 L386.6 296.51 L384.77 294.68 L386.6 292.86 L384.77 291.03Z M386.97 288.78 L388.8 290.6 L390.62 288.78 L392.45 290.6 L390.62 292.43 L392.45 294.25 L390.62 296.08 L388.8 294.25 L386.97 296.08 L385.15 294.25 L386.97 292.43 L385.15 290.6Z M387.34 288.5 L389.17 290.33 L390.99 288.5 L392.82 290.33 L390.99 292.15 L392.82 293.98 L390.99 295.8 L389.17 293.98 L387.34 295.8 L385.52 293.98 L387.34 292.15 L385.52 290.33Z M387.72 288.07 L389.54 289.9 L391.37 288.07 L393.19 289.9 L391.37 291.72 L393.19 293.55 L391.37 295.37 L389.54 293.55 L387.72 295.37 L385.89 293.55 L387.72 291.72 L385.89 289.9Z M388.09 287.69 L389.91 289.51 L391.74 287.69 L393.56 289.51 L391.74 291.34 L393.56 293.16 L391.74 294.99 L389.91 293.16 L388.09 294.99 L386.26 293.16 L388.09 291.34 L386.26 289.51Z M388.46 287.29 L390.29 289.11 L392.11 287.29 L393.94 289.11 L392.11 290.94 L393.94 292.76 L392.11 294.59 L390.29 292.76 L388.46 294.59 L386.64 292.76 L388.46 290.94 L386.64 289.11Z M388.83 286.93 L390.66 288.76 L392.48 286.93 L394.31 288.76 L392.48 290.58 L394.31 292.41 L392.48 294.23 L390.66 292.41 L388.83 294.23 L387.01 292.41 L388.83 290.58 L387.01 288.76Z M389.21 286.59 L391.03 288.42 L392.86 286.59 L394.68 288.42 L392.86 290.24 L394.68 292.07 L392.86 293.89 L391.03 292.07 L389.21 293.89 L387.38 292.07 L389.21 290.24 L387.38 288.42Z M389.58 286.19 L391.4 288.02 L393.23 286.19 L395.05 288.02 L393.23 289.84 L395.05 291.67 L393.23 293.49 L391.4 291.67 L389.58 293.49 L387.75 291.67 L389.58 289.84 L387.75 288.02Z M389.95 285.8 L391.78 287.63 L393.6 285.8 L395.43 287.63 L393.6 289.45 L395.43 291.28 L393.6 293.1 L391.78 291.28 L389.95 293.1 L388.13 291.28 L389.95 289.45 L388.13 287.63Z M390.07 285.7 L391.9 287.52 L393.72 285.7 L395.55 287.52 L393.72 289.35 L395.55 291.17 L393.72 293 L391.9 291.17 L390.07 293 L388.25 291.17 L390.07 289.35 L388.25 287.52Z M390.7 285.04 L392.52 286.87 L394.35 285.04 L396.17 286.87 L394.35 288.69 L396.17 290.52 L394.35 292.34 L392.52 290.52 L390.7 292.34 L388.87 290.52 L390.7 288.69 L388.87 286.87Z M391.32 284.49 L393.14 286.31 L394.97 284.49 L396.79 286.31 L394.97 288.14 L396.79 289.96 L394.97 291.79 L393.14 289.96 L391.32 291.79 L389.49 289.96 L391.32 288.14 L389.49 286.31Z M391.94 283.75 L393.76 285.58 L395.59 283.75 L397.41 285.58 L395.59 287.4 L397.41 289.23 L395.59 291.05 L393.76 289.23 L391.94 291.05 L390.11 289.23 L391.94 287.4 L390.11 285.58Z M392.56 283.13 L394.38 284.96 L396.21 283.13 L398.03 284.96 L396.21 286.78 L398.03 288.61 L396.21 290.43 L394.38 288.61 L392.56 290.43 L390.73 288.61 L392.56 286.78 L390.73 284.96Z M393.18 282.56 L395 284.39 L396.83 282.56 L398.65 284.39 L396.83 286.21 L398.65 288.04 L396.83 289.86 L395 288.04 L393.18 289.86 L391.35 288.04 L393.18 286.21 L391.35 284.39Z M393.8 281.9 L395.62 283.73 L397.45 281.9 L399.27 283.73 L397.45 285.55 L399.27 287.38 L397.45 289.2 L395.62 287.38 L393.8 289.2 L391.98 287.38 L393.8 285.55 L391.98 283.73Z M394.42 281.3 L396.25 283.12 L398.07 281.3 L399.9 283.12 L398.07 284.95 L399.9 286.77 L398.07 288.6 L396.25 286.77 L394.42 288.6 L392.6 286.77 L394.42 284.95 L392.6 283.12Z M395.04 280.7 L396.87 282.52 L398.69 280.7 L400.52 282.52 L398.69 284.35 L400.52 286.17 L398.69 288 L396.87 286.17 L395.04 288 L393.22 286.17 L395.04 284.35 L393.22 282.52Z M395.66 280.04 L397.49 281.86 L399.31 280.04 L401.14 281.86 L399.31 283.69 L401.14 285.51 L399.31 287.34 L397.49 285.51 L395.66 287.34 L393.84 285.51 L395.66 283.69 L393.84 281.86Z M396.28 279.38 L398.11 281.2 L399.93 279.38 L401.76 281.2 L399.93 283.03 L401.76 284.85 L399.93 286.68 L398.11 284.85 L396.28 286.68 L394.46 284.85 L396.28 283.03 L394.46 281.2Z M396.9 278.8 L398.73 280.63 L400.55 278.8 L402.38 280.63 L400.55 282.45 L402.38 284.28 L400.55 286.1 L398.73 284.28 L396.9 286.1 L395.08 284.28 L396.9 282.45 L395.08 280.63Z M397.53 278.18 L399.35 280 L401.18 278.18 L403 280 L401.18 281.83 L403 283.65 L401.18 285.48 L399.35 283.65 L397.53 285.48 L395.7 283.65 L397.53 281.83 L395.7 280Z M398.15 277.54 L399.97 279.36 L401.8 277.54 L403.62 279.36 L401.8 281.19 L403.62 283.01 L401.8 284.84 L399.97 283.01 L398.15 284.84 L396.32 283.01 L398.15 281.19 L396.32 279.36Z M398.77 276.89 L400.59 278.71 L402.42 276.89 L404.24 278.71 L402.42 280.54 L404.24 282.36 L402.42 284.19 L400.59 282.36 L398.77 284.19 L396.94 282.36 L398.77 280.54 L396.94 278.71Z M399.39 276.22 L401.21 278.05 L403.04 276.22 L404.86 278.05 L403.04 279.87 L404.86 281.7 L403.04 283.52 L401.21 281.7 L399.39 283.52 L397.56 281.7 L399.39 279.87 L397.56 278.05Z M400.01 275.68 L401.83 277.5 L403.66 275.68 L405.48 277.5 L403.66 279.33 L405.48 281.15 L403.66 282.98 L401.83 281.15 L400.01 282.98 L398.18 281.15 L400.01 279.33 L398.18 277.5Z M400.63 275 L402.45 276.82 L404.28 275 L406.1 276.82 L404.28 278.65 L406.1 280.47 L404.28 282.3 L402.45 280.47 L400.63 282.3 L398.8 280.47 L400.63 278.65 L398.8 276.82Z M401.25 274.38 L403.07 276.21 L404.9 274.38 L406.72 276.21 L404.9 278.03 L406.72 279.86 L404.9 281.68 L403.07 279.86 L401.25 281.68 L399.43 279.86 L401.25 278.03 L399.43 276.21Z M401.87 273.86 L403.7 275.68 L405.52 273.86 L407.35 275.68 L405.52 277.51 L407.35 279.33 L405.52 281.16 L403.7 279.33 L401.87 281.16 L400.05 279.33 L401.87 277.51 L400.05 275.68Z M402.49 273.16 L404.32 274.99 L406.14 273.16 L407.97 274.99 L406.14 276.81 L407.97 278.64 L406.14 280.46 L404.32 278.64 L402.49 280.46 L400.67 278.64 L402.49 276.81 L400.67 274.99Z M403.11 272.52 L404.94 274.34 L406.76 272.52 L408.59 274.34 L406.76 276.17 L408.59 277.99 L406.76 279.82 L404.94 277.99 L403.11 279.82 L401.29 277.99 L403.11 276.17 L401.29 274.34Z M403.73 271.89 L405.56 273.71 L407.38 271.89 L409.21 273.71 L407.38 275.54 L409.21 277.36 L407.38 279.19 L405.56 277.36 L403.73 279.19 L401.91 277.36 L403.73 275.54 L401.91 273.71Z M404.35 271.24 L406.18 273.07 L408 271.24 L409.83 273.07 L408 274.89 L409.83 276.72 L408 278.54 L406.18 276.72 L404.35 278.54 L402.53 276.72 L404.35 274.89 L402.53 273.07Z M404.98 270.74 L406.8 272.57 L408.62 270.74 L410.45 272.57 L408.62 274.39 L410.45 276.22 L408.62 278.04 L406.8 276.22 L404.98 278.04 L403.15 276.22 L404.98 274.39 L403.15 272.57Z M405.6 270 L407.42 271.82 L409.25 270 L411.07 271.82 L409.25 273.65 L411.07 275.47 L409.25 277.3 L407.42 275.47 L405.6 277.3 L403.77 275.47 L405.6 273.65 L403.77 271.82Z M406.22 269.41 L408.04 271.24 L409.87 269.41 L411.69 271.24 L409.87 273.06 L411.69 274.89 L409.87 276.71 L408.04 274.89 L406.22 276.71 L404.39 274.89 L406.22 273.06 L404.39 271.24Z M407.21 268.45 L409.03 270.28 L410.86 268.45 L412.68 270.28 L410.86 272.1 L412.68 273.93 L410.86 275.75 L409.03 273.93 L407.21 275.75 L405.38 273.93 L407.21 272.1 L405.38 270.28Z M408.2 267.34 L410.03 269.16 L411.85 267.34 L413.68 269.16 L411.85 270.99 L413.68 272.81 L411.85 274.64 L410.03 272.81 L408.2 274.64 L406.38 272.81 L408.2 270.99 L406.38 269.16Z M409.2 266.32 L411.02 268.14 L412.85 266.32 L414.67 268.14 L412.85 269.97 L414.67 271.79 L412.85 273.62 L411.02 271.79 L409.2 273.62 L407.37 271.79 L409.2 269.97 L407.37 268.14Z M410.19 265.4 L412.01 267.23 L413.84 265.4 L415.66 267.23 L413.84 269.05 L415.66 270.88 L413.84 272.7 L412.01 270.88 L410.19 272.7 L408.37 270.88 L410.19 269.05 L408.37 267.23Z M411.18 264.3 L413.01 266.12 L414.83 264.3 L416.66 266.12 L414.83 267.95 L416.66 269.77 L414.83 271.6 L413.01 269.77 L411.18 271.6 L409.36 269.77 L411.18 267.95 L409.36 266.12Z M412.18 263.38 L414 265.2 L415.83 263.38 L417.65 265.2 L415.83 267.03 L417.65 268.85 L415.83 270.68 L414 268.85 L412.18 270.68 L410.35 268.85 L412.18 267.03 L410.35 265.2Z M413.17 262.34 L415 264.17 L416.82 262.34 L418.64 264.17 L416.82 265.99 L418.64 267.82 L416.82 269.64 L415 267.82 L413.17 269.64 L411.35 267.82 L413.17 265.99 L411.35 264.17Z M414.16 261.42 L415.99 263.25 L417.81 261.42 L419.64 263.25 L417.81 265.07 L419.64 266.9 L417.81 268.72 L415.99 266.9 L414.16 268.72 L412.34 266.9 L414.16 265.07 L412.34 263.25Z M415.16 260.22 L416.98 262.05 L418.81 260.22 L420.63 262.05 L418.81 263.87 L420.63 265.7 L418.81 267.52 L416.98 265.7 L415.16 267.52 L413.33 265.7 L415.16 263.87 L413.33 262.05Z M416.15 259.53 L417.98 261.36 L419.8 259.53 L421.62 261.36 L419.8 263.18 L421.62 265.01 L419.8 266.83 L417.98 265.01 L416.15 266.83 L414.33 265.01 L416.15 263.18 L414.33 261.36Z M417.14 258.34 L418.97 260.16 L420.79 258.34 L422.62 260.16 L420.79 261.99 L422.62 263.81 L420.79 265.64 L418.97 263.81 L417.14 265.64 L415.32 263.81 L417.14 261.99 L415.32 260.16Z M420.62 254.57 L422.44 256.39 L424.27 254.57 L426.09 256.39 L424.27 258.22 L426.09 260.04 L424.27 261.87 L422.44 260.04 L420.62 261.87 L418.8 260.04 L420.62 258.22 L418.8 256.39Z M422.36 252.81 L424.18 254.63 L426.01 252.81 L427.83 254.63 L426.01 256.46 L427.83 258.28 L426.01 260.11 L424.18 258.28 L422.36 260.11 L420.53 258.28 L422.36 256.46 L420.53 254.63Z M425.59 249.55 L427.41 251.37 L429.24 249.55 L431.06 251.37 L429.24 253.2 L431.06 255.02 L429.24 256.85 L427.41 255.02 L425.59 256.85 L423.76 255.02 L425.59 253.2 L423.76 251.37Z M428.32 247.04 L430.14 248.86 L431.97 247.04 L433.79 248.86 L431.97 250.69 L433.79 252.51 L431.97 254.34 L430.14 252.51 L428.32 254.34 L426.49 252.51 L428.32 250.69 L426.49 248.86Z M433.78 241.26 L435.61 243.09 L437.43 241.26 L439.26 243.09 L437.43 244.91 L439.26 246.74 L437.43 248.56 L435.61 246.74 L433.78 248.56 L431.96 246.74 L433.78 244.91 L431.96 243.09Z M435.52 239.76 L437.35 241.58 L439.17 239.76 L441 241.58 L439.17 243.41 L441 245.23 L439.17 247.06 L437.35 245.23 L435.52 247.06 L433.7 245.23 L435.52 243.41 L433.7 241.58Z M449.68 225.45 L451.5 227.27 L453.32 225.45 L455.15 227.27 L453.32 229.1 L455.15 230.92 L453.32 232.75 L451.5 230.92 L449.68 232.75 L447.85 230.92 L449.68 229.1 L447.85 227.27Z M454.64 220.18 L456.47 222 L458.29 220.18 L460.12 222 L458.29 223.83 L460.12 225.65 L458.29 227.48 L456.47 225.65 L454.64 227.48 L452.82 225.65 L454.64 223.83 L452.82 222Z M457.62 217.17 L459.45 218.99 L461.27 217.17 L463.1 218.99 L461.27 220.82 L463.1 222.64 L461.27 224.47 L459.45 222.64 L457.62 224.47 L455.8 222.64 L457.62 220.82 L455.8 218.99Z M472.77 201.86 L474.6 203.68 L476.42 201.86 L478.25 203.68 L476.42 205.51 L478.25 207.33 L476.42 209.16 L474.6 207.33 L472.77 209.16 L470.95 207.33 L472.77 205.51 L470.95 203.68Z M481.96 192.32 L483.78 194.14 L485.61 192.32 L487.43 194.14 L485.61 195.97 L487.43 197.79 L485.61 199.62 L483.78 197.79 L481.96 199.62 L480.13 197.79 L481.96 195.97 L480.13 194.14Z M485.44 189.05 L487.26 190.88 L489.08 189.05 L490.91 190.88 L489.08 192.7 L490.91 194.53 L489.08 196.35 L487.26 194.53 L485.44 196.35 L483.61 194.53 L485.44 192.7 L483.61 190.88Z M498.35 176 L500.17 177.83 L502 176 L503.82 177.83 L502 179.65 L503.82 181.48 L502 183.3 L500.17 181.48 L498.35 183.3 L496.52 181.48 L498.35 179.65 L496.52 177.83Z M507.54 166.97 L509.36 168.79 L511.19 166.97 L513.01 168.79 L511.19 170.62 L513.01 172.44 L511.19 174.27 L509.36 172.44 L507.54 174.27 L505.71 172.44 L507.54 170.62 L505.71 168.79Z M543.05 130.82 L544.87 132.65 L546.7 130.82 L548.52 132.65 L546.7 134.47 L548.52 136.3 L546.7 138.12 L544.87 136.3 L543.05 138.12 L541.22 136.3 L543.05 134.47 L541.22 132.65Z" fill="#008080" stroke="#008080" stroke-width="0.7" stroke-linejoin="round"/>
<path d="M377.5 300.2 L378.33 302.75 L381.02 302.75 L378.84 304.33 L379.67 306.89 L377.5 305.31 L375.32 306.89 L376.15 304.33 L373.98 302.75 L376.67 302.75Z M377.62 299.95 L378.45 302.5 L381.14 302.5 L378.96 304.08 L379.8 306.64 L377.62 305.06 L375.45 306.64 L376.28 304.08 L374.1 302.5 L376.79 302.5Z M377.75 299.95 L378.58 302.5 L381.26 302.5 L379.09 304.08 L379.92 306.64 L377.75 305.06 L375.57 306.64 L376.4 304.08 L374.23 302.5 L376.91 302.5Z M377.87 299.7 L378.7 302.25 L381.39 302.25 L379.21 303.83 L380.04 306.39 L377.87 304.81 L375.69 306.39 L376.53 303.83 L374.35 302.25 L377.04 302.25Z M377.99 299.57 L378.82 302.13 L381.51 302.13 L379.34 303.71 L380.17 306.26 L377.99 304.68 L375.82 306.26 L376.65 303.71 L374.47 302.13 L377.16 302.13Z M378.24 299.44 L379.07 302 L381.76 302 L379.59 303.58 L380.42 306.14 L378.24 304.56 L376.07 306.14 L376.9 303.58 L374.72 302 L377.41 302Z M378.49 299.07 L379.32 301.63 L382.01 301.63 L379.83 303.21 L380.66 305.76 L378.49 304.18 L376.32 305.76 L377.15 303.21 L374.97 301.63 L377.66 301.63Z M378.74 298.94 L379.57 301.5 L382.26 301.5 L380.08 303.08 L380.91 305.64 L378.74 304.06 L376.56 305.64 L377.39 303.08 L375.22 301.5 L377.91 301.5Z M378.99 298.57 L379.82 301.12 L382.51 301.12 L380.33 302.7 L381.16 305.26 L378.99 303.68 L376.81 305.26 L377.64 302.7 L375.47 301.12 L378.16 301.12Z M379.24 298.44 L380.07 301 L382.75 301 L380.58 302.58 L381.41 305.13 L379.24 303.55 L377.06 305.13 L377.89 302.58 L375.72 301 L378.4 301Z M379.48 297.94 L380.31 300.5 L383 300.5 L380.83 302.08 L381.66 304.63 L379.48 303.05 L377.31 304.63 L378.14 302.08 L375.96 300.5 L378.65 300.5Z M380.97 297.19 L381.8 299.74 L384.49 299.74 L382.32 301.32 L383.15 303.88 L380.97 302.3 L378.8 303.88 L379.63 301.32 L377.45 299.74 L380.14 299.74Z M385.94 291.41 L386.77 293.97 L389.46 293.97 L387.28 295.55 L388.11 298.11 L385.94 296.53 L383.77 298.11 L384.6 295.55 L382.42 293.97 L385.11 293.97Z M386.44 290.91 L387.27 293.47 L389.96 293.47 L387.78 295.05 L388.61 297.6 L386.44 296.02 L384.26 297.6 L385.09 295.05 L382.92 293.47 L385.61 293.47Z M386.56 290.66 L387.39 293.22 L390.08 293.22 L387.9 294.8 L388.74 297.35 L386.56 295.77 L384.39 297.35 L385.22 294.8 L383.04 293.22 L385.73 293.22Z M386.93 290.41 L387.76 292.97 L390.45 292.97 L388.28 294.55 L389.11 297.1 L386.93 295.52 L384.76 297.1 L385.59 294.55 L383.41 292.97 L386.1 292.97Z M412.76 264.31 L413.59 266.86 L416.28 266.86 L414.1 268.44 L414.93 271 L412.76 269.42 L410.59 271 L411.42 268.44 L409.24 266.86 L411.93 266.86Z M417.98 258.53 L418.81 261.09 L421.49 261.09 L419.32 262.67 L420.15 265.23 L417.98 263.65 L415.8 265.23 L416.63 262.67 L414.46 261.09 L417.14 261.09Z M436.35 240.21 L437.18 242.77 L439.87 242.77 L437.7 244.35 L438.53 246.9 L436.35 245.32 L434.18 246.9 L435.01 244.35 L432.83 242.77 L435.52 242.77Z M449.76 226.4 L450.59 228.96 L453.28 228.96 L451.11 230.54 L451.94 233.1 L449.76 231.52 L447.59 233.1 L448.42 230.54 L446.24 228.96 L448.93 228.96Z M451.5 224.9 L452.33 227.45 L455.02 227.45 L452.84 229.03 L453.67 231.59 L451.5 230.01 L449.33 231.59 L450.16 229.03 L447.98 227.45 L450.67 227.45Z M476.33 200.3 L477.16 202.86 L479.85 202.86 L477.68 204.44 L478.51 206.99 L476.33 205.41 L474.16 206.99 L474.99 204.44 L472.81 202.86 L475.5 202.86Z M502.66 172.94 L503.49 175.5 L506.18 175.5 L504 177.08 L504.83 179.63 L502.66 178.05 L500.48 179.63 L501.31 177.08 L499.14 175.5 L501.83 175.5Z M533.45 140.56 L534.28 143.12 L536.97 143.12 L534.79 144.7 L535.62 147.26 L533.45 145.68 L531.28 147.26 L532.11 144.7 L529.93 143.12 L532.62 143.12Z M558.03 117.97 L558.87 120.53 L561.55 120.53 L559.38 122.11 L560.21 124.67 L558.03 123.09 L555.86 124.67 L556.69 122.11 L554.52 120.53 L557.2 120.53Z" fill="#00ff00" stroke="#00ff00" stroke-width="0.3"/>
<line x1="377" y1="304.4" x2="600.5" y2="78.5" stroke="#000" stroke-width="1.2" stroke-dasharray="4.3 2.2"/>
</g>
<line x1="377" y1="78" x2="377" y2="304.9" stroke="#000" stroke-opacity="0.55" stroke-width="1.0"/>
<line x1="376.5" y1="78.5" x2="601" y2="78.5" stroke="#000" stroke-opacity="0.45" stroke-width="1.0"/>
<line x1="600.5" y1="78" x2="600.5" y2="304.9" stroke="#000" stroke-opacity="0.55" stroke-width="1.0"/>
<line x1="376.5" y1="304.4" x2="601" y2="304.4" stroke="#000" stroke-opacity="0.55" stroke-width="1.0"/>
<path d="M377 304.4h-2.3 M377 279.3h-2.3 M377 254.2h-2.3 M377 229.1h-2.3 M377 204h-2.3 M377 178.9h-2.3 M377 153.8h-2.3 M377 128.7h-2.3 M377 103.6h-2.3 M377 78.5h-2.3 M377 304.4v2.3 M426.67 304.4v2.3 M476.33 304.4v2.3 M526 304.4v2.3 M575.67 304.4v2.3" stroke="#000" stroke-opacity="0.85" stroke-width="0.8" fill="none"/>
<g font-size="9.2" fill="#000">
<text x="373.4" y="307.44" text-anchor="end">0</text>
<text x="373.4" y="282.34" text-anchor="end">100</text>
<text x="373.4" y="257.24" text-anchor="end">200</text>
<text x="373.4" y="232.14" text-anchor="end">300</text>
<text x="373.4" y="207.04" text-anchor="end">400</text>
<text x="373.4" y="181.94" text-anchor="end">500</text>
<text x="373.4" y="156.84" text-anchor="end">600</text>
<text x="373.4" y="131.74" text-anchor="end">700</text>
<text x="373.4" y="106.64" text-anchor="end">800</text>
<text x="373.4" y="81.54" text-anchor="end">900</text>
<text x="377" y="314.86" text-anchor="middle">0</text>
<text x="426.67" y="314.86" text-anchor="middle">200</text>
<text x="476.33" y="314.86" text-anchor="middle">400</text>
<text x="526" y="314.86" text-anchor="middle">600</text>
<text x="575.67" y="314.86" text-anchor="middle">800</text>
</g>
<text x="488.75" y="327.5" text-anchor="middle" font-size="12" fill="#000">Experimental Viscosity (mPa.s)</text>
<text transform="translate(354.8 191.45) rotate(-90)" text-anchor="middle" font-size="12" fill="#000">Predicted Values</text>
<text x="591.9" y="289.3" text-anchor="end" font-size="13.3" fill="#000">GPR</text>
<rect x="381.2" y="82.4" width="74.6" height="26" rx="1.2" fill="#fff" fill-opacity="0.8" stroke="#d9d9d9" stroke-width="0.6"/>
<path d="M391.15 86 L393 87.85 L394.85 86 L396.7 87.85 L394.85 89.7 L396.7 91.55 L394.85 93.4 L393 91.55 L391.15 93.4 L389.3 91.55 L391.15 89.7 L389.3 87.85Z" fill="#008080" stroke="#008080" stroke-width="0.7" stroke-linejoin="round"/>
<path d="M393 97.6 L393.88 100.29 L396.71 100.29 L394.42 101.96 L395.29 104.66 L393 102.99 L390.71 104.66 L391.58 101.96 L389.29 100.29 L392.12 100.29Z" fill="#00ff00" stroke="#00ff00" stroke-width="0.5" stroke-linejoin="round"/>
<text x="408" y="91.86" font-size="8.3" fill="#000">Training data</text>
<text x="408" y="103.86" font-size="8.3" fill="#000">Test data</text>
</g>
<g>
<line x1="34.5" y1="441" x2="260.5" y2="441" stroke="#e4e4e4" stroke-width="0.8"/>
<line x1="266.85" y1="450.9" x2="266.85" y2="679.5" stroke="#d4d4d4" stroke-width="0.9"/>
<clipPath id="c2t"><rect x="34.5" y="0" width="226.3" height="440.8"/></clipPath>
<clipPath id="c2r"><rect x="267.15" y="450.7" width="90" height="228.6"/></clipPath>
<g clip-path="url(#c2t)" stroke="#000" stroke-opacity="0.55" stroke-width="0.5">
<rect x="35.56" y="395.7" width="7.63" height="45.1" fill="#008080" fill-opacity="0.5"/>
<rect x="43.2" y="420.07" width="7.63" height="20.73" fill="#008080" fill-opacity="0.5"/>
<rect x="50.83" y="427.55" width="7.63" height="13.25" fill="#008080" fill-opacity="0.5"/>
<rect x="58.47" y="432.41" width="7.63" height="8.39" fill="#008080" fill-opacity="0.5"/>
<rect x="66.1" y="435.74" width="7.63" height="5.06" fill="#008080" fill-opacity="0.5"/>
<rect x="73.73" y="437.06" width="7.63" height="3.74" fill="#008080" fill-opacity="0.5"/>
<rect x="81.37" y="438.58" width="7.63" height="2.22" fill="#008080" fill-opacity="0.5"/>
<rect x="89" y="437.46" width="7.63" height="3.34" fill="#008080" fill-opacity="0.5"/>
<rect x="111.91" y="438.58" width="7.63" height="2.22" fill="#008080" fill-opacity="0.5"/>
<rect x="127.18" y="439.69" width="7.63" height="1.11" fill="#008080" fill-opacity="0.5"/>
<rect x="142.44" y="438.58" width="7.63" height="2.22" fill="#008080" fill-opacity="0.5"/>
<rect x="165.35" y="439.69" width="7.63" height="1.11" fill="#008080" fill-opacity="0.5"/>
<rect x="203.52" y="439.69" width="7.63" height="1.11" fill="#008080" fill-opacity="0.5"/>
<rect x="256.96" y="438.17" width="7.63" height="2.63" fill="#008080" fill-opacity="0.5"/>
<rect x="35.56" y="374.67" width="6.06" height="66.13" fill="#00ff00" fill-opacity="0.5"/>
<rect x="41.62" y="416.53" width="6.06" height="24.27" fill="#00ff00" fill-opacity="0.5"/>
<rect x="65.85" y="435.04" width="6.06" height="5.76" fill="#00ff00" fill-opacity="0.5"/>
<rect x="71.9" y="435.04" width="6.06" height="5.76" fill="#00ff00" fill-opacity="0.5"/>
<rect x="90.07" y="435.04" width="6.06" height="5.76" fill="#00ff00" fill-opacity="0.5"/>
<rect x="102.19" y="435.04" width="6.06" height="5.76" fill="#00ff00" fill-opacity="0.5"/>
<rect x="108.25" y="435.04" width="6.06" height="5.76" fill="#00ff00" fill-opacity="0.5"/>
<rect x="132.47" y="435.04" width="6.06" height="5.76" fill="#00ff00" fill-opacity="0.5"/>
<rect x="156.7" y="435.04" width="6.06" height="5.76" fill="#00ff00" fill-opacity="0.5"/>
<rect x="186.99" y="435.04" width="6.06" height="5.76" fill="#00ff00" fill-opacity="0.5"/>
<rect x="211.21" y="435.04" width="6.06" height="5.76" fill="#00ff00" fill-opacity="0.5"/>
</g>
<g clip-path="url(#c2r)" stroke="#000" stroke-opacity="0.55" stroke-width="0.5">
<rect x="267.15" y="671.24" width="46.11" height="7.76" fill="#008080" fill-opacity="0.5"/>
<rect x="267.15" y="663.49" width="20.43" height="7.76" fill="#008080" fill-opacity="0.5"/>
<rect x="267.15" y="655.73" width="12.94" height="7.76" fill="#008080" fill-opacity="0.5"/>
<rect x="267.15" y="647.97" width="8.19" height="7.76" fill="#008080" fill-opacity="0.5"/>
<rect x="267.15" y="640.22" width="5.06" height="7.76" fill="#008080" fill-opacity="0.5"/>
<rect x="267.15" y="632.46" width="3.64" height="7.76" fill="#008080" fill-opacity="0.5"/>
<rect x="267.15" y="624.7" width="2.63" height="7.76" fill="#008080" fill-opacity="0.5"/>
<rect x="267.15" y="616.95" width="3.34" height="7.76" fill="#008080" fill-opacity="0.5"/>
<rect x="267.15" y="593.68" width="2.22" height="7.76" fill="#008080" fill-opacity="0.5"/>
<rect x="267.15" y="578.16" width="1.11" height="7.76" fill="#008080" fill-opacity="0.5"/>
<rect x="267.15" y="562.65" width="2.43" height="7.76" fill="#008080" fill-opacity="0.5"/>
<rect x="267.15" y="539.38" width="1.11" height="7.76" fill="#008080" fill-opacity="0.5"/>
<rect x="267.15" y="500.6" width="1.11" height="7.76" fill="#008080" fill-opacity="0.5"/>
<rect x="267.15" y="446.3" width="2.73" height="7.76" fill="#008080" fill-opacity="0.5"/>
<rect x="267.15" y="672.84" width="67.34" height="6.16" fill="#00ff00" fill-opacity="0.5"/>
<rect x="267.15" y="666.68" width="24.37" height="6.16" fill="#00ff00" fill-opacity="0.5"/>
<rect x="267.15" y="642.04" width="5.97" height="6.16" fill="#00ff00" fill-opacity="0.5"/>
<rect x="267.15" y="635.88" width="5.97" height="6.16" fill="#00ff00" fill-opacity="0.5"/>
<rect x="267.15" y="617.4" width="5.97" height="6.16" fill="#00ff00" fill-opacity="0.5"/>
<rect x="267.15" y="605.08" width="5.97" height="6.16" fill="#00ff00" fill-opacity="0.5"/>
<rect x="267.15" y="598.92" width="5.97" height="6.16" fill="#00ff00" fill-opacity="0.5"/>
<rect x="267.15" y="574.28" width="5.97" height="6.16" fill="#00ff00" fill-opacity="0.5"/>
<rect x="267.15" y="549.64" width="5.97" height="6.16" fill="#00ff00" fill-opacity="0.5"/>
<rect x="267.15" y="518.84" width="5.97" height="6.16" fill="#00ff00" fill-opacity="0.5"/>
<rect x="267.15" y="494.2" width="5.97" height="6.16" fill="#00ff00" fill-opacity="0.5"/>
</g>
<clipPath id="c2m"><rect x="34.5" y="450.9" width="226" height="228.6"/></clipPath>
<g clip-path="url(#c2m)">
<path d="M32.91 674.74 L34.75 676.58 L36.6 674.74 L38.44 676.58 L36.6 678.43 L38.44 680.27 L36.6 682.12 L34.75 680.27 L32.91 682.12 L31.06 680.27 L32.91 678.43 L31.06 676.58Z M33.28 674.97 L35.13 676.82 L36.97 674.97 L38.82 676.82 L36.97 678.67 L38.82 680.51 L36.97 682.36 L35.13 680.51 L33.28 682.36 L31.44 680.51 L33.28 678.67 L31.44 676.82Z M33.66 674.75 L35.5 676.59 L37.35 674.75 L39.2 676.59 L37.35 678.44 L39.2 680.29 L37.35 682.13 L35.5 680.29 L33.66 682.13 L31.81 680.29 L33.66 678.44 L31.81 676.59Z M34.04 675.26 L35.88 677.11 L37.73 675.26 L39.57 677.11 L37.73 678.95 L39.57 680.8 L37.73 682.65 L35.88 680.8 L34.04 682.65 L32.19 680.8 L34.04 678.95 L32.19 677.11Z M34.41 674.16 L36.26 676 L38.1 674.16 L39.95 676 L38.1 677.85 L39.95 679.69 L38.1 681.54 L36.26 679.69 L34.41 681.54 L32.57 679.69 L34.41 677.85 L32.57 676Z M34.79 673.81 L36.63 675.66 L38.48 673.81 L40.33 675.66 L38.48 677.5 L40.33 679.35 L38.48 681.19 L36.63 679.35 L34.79 681.19 L32.94 679.35 L34.79 677.5 L32.94 675.66Z M35.17 673.31 L37.01 675.15 L38.86 673.31 L40.7 675.15 L38.86 677 L40.7 678.84 L38.86 680.69 L37.01 678.84 L35.17 680.69 L33.32 678.84 L35.17 677 L33.32 675.15Z M35.54 673.17 L37.39 675.02 L39.23 673.17 L41.08 675.02 L39.23 676.87 L41.08 678.71 L39.23 680.56 L37.39 678.71 L35.54 680.56 L33.7 678.71 L35.54 676.87 L33.7 675.02Z M35.92 672.53 L37.76 674.37 L39.61 672.53 L41.46 674.37 L39.61 676.22 L41.46 678.06 L39.61 679.91 L37.76 678.06 L35.92 679.91 L34.07 678.06 L35.92 676.22 L34.07 674.37Z M36.3 672.34 L38.14 674.19 L39.99 672.34 L41.83 674.19 L39.99 676.04 L41.83 677.88 L39.99 679.73 L38.14 677.88 L36.3 679.73 L34.45 677.88 L36.3 676.04 L34.45 674.19Z M36.67 672.35 L38.52 674.19 L40.36 672.35 L42.21 674.19 L40.36 676.04 L42.21 677.88 L40.36 679.73 L38.52 677.88 L36.67 679.73 L34.83 677.88 L36.67 676.04 L34.83 674.19Z M37.05 670.96 L38.89 672.81 L40.74 670.96 L42.59 672.81 L40.74 674.65 L42.59 676.5 L40.74 678.34 L38.89 676.5 L37.05 678.34 L35.2 676.5 L37.05 674.65 L35.2 672.81Z M37.43 670.58 L39.27 672.43 L41.12 670.58 L42.96 672.43 L41.12 674.27 L42.96 676.12 L41.12 677.96 L39.27 676.12 L37.43 677.96 L35.58 676.12 L37.43 674.27 L35.58 672.43Z M37.8 669.82 L39.65 671.67 L41.49 669.82 L43.34 671.67 L41.49 673.51 L43.34 675.36 L41.49 677.2 L39.65 675.36 L37.8 677.2 L35.96 675.36 L37.8 673.51 L35.96 671.67Z M38.18 670.2 L40.02 672.04 L41.87 670.2 L43.72 672.04 L41.87 673.89 L43.72 675.73 L41.87 677.58 L40.02 675.73 L38.18 677.58 L36.33 675.73 L38.18 673.89 L36.33 672.04Z M38.56 670.03 L40.4 671.87 L42.25 670.03 L44.09 671.87 L42.25 673.72 L44.09 675.56 L42.25 677.41 L40.4 675.56 L38.56 677.41 L36.71 675.56 L38.56 673.72 L36.71 671.87Z M38.93 669.71 L40.78 671.55 L42.62 669.71 L44.47 671.55 L42.62 673.4 L44.47 675.24 L42.62 677.09 L40.78 675.24 L38.93 677.09 L37.09 675.24 L38.93 673.4 L37.09 671.55Z M39.31 669.79 L41.15 671.63 L43 669.79 L44.85 671.63 L43 673.48 L44.85 675.32 L43 677.17 L41.15 675.32 L39.31 677.17 L37.46 675.32 L39.31 673.48 L37.46 671.63Z M39.69 668.25 L41.53 670.09 L43.38 668.25 L45.22 670.09 L43.38 671.94 L45.22 673.78 L43.38 675.63 L41.53 673.78 L39.69 675.63 L37.84 673.78 L39.69 671.94 L37.84 670.09Z M40.06 668.82 L41.91 670.66 L43.75 668.82 L45.6 670.66 L43.75 672.51 L45.6 674.36 L43.75 676.2 L41.91 674.36 L40.06 676.2 L38.22 674.36 L40.06 672.51 L38.22 670.66Z M40.44 668.48 L42.28 670.32 L44.13 668.48 L45.98 670.32 L44.13 672.17 L45.98 674.01 L44.13 675.86 L42.28 674.01 L40.44 675.86 L38.59 674.01 L40.44 672.17 L38.59 670.32Z M40.82 667.65 L42.66 669.49 L44.51 667.65 L46.35 669.49 L44.51 671.34 L46.35 673.18 L44.51 675.03 L42.66 673.18 L40.82 675.03 L38.97 673.18 L40.82 671.34 L38.97 669.49Z M41.19 666.49 L43.04 668.34 L44.88 666.49 L46.73 668.34 L44.88 670.18 L46.73 672.03 L44.88 673.88 L43.04 672.03 L41.19 673.88 L39.35 672.03 L41.19 670.18 L39.35 668.34Z M41.57 666.68 L43.41 668.53 L45.26 666.68 L47.11 668.53 L45.26 670.37 L47.11 672.22 L45.26 674.07 L43.41 672.22 L41.57 674.07 L39.72 672.22 L41.57 670.37 L39.72 668.53Z M41.95 666.88 L43.79 668.72 L45.64 666.88 L47.48 668.72 L45.64 670.57 L47.48 672.42 L45.64 674.26 L43.79 672.42 L41.95 674.26 L40.1 672.42 L41.95 670.57 L40.1 668.72Z M42.32 666.36 L44.17 668.2 L46.01 666.36 L47.86 668.2 L46.01 670.05 L47.86 671.89 L46.01 673.74 L44.17 671.89 L42.32 673.74 L40.48 671.89 L42.32 670.05 L40.48 668.2Z M42.7 665.36 L44.54 667.21 L46.39 665.36 L48.24 667.21 L46.39 669.05 L48.24 670.9 L46.39 672.74 L44.54 670.9 L42.7 672.74 L40.85 670.9 L42.7 669.05 L40.85 667.21Z M43.08 665.34 L44.92 667.19 L46.77 665.34 L48.61 667.19 L46.77 669.03 L48.61 670.88 L46.77 672.72 L44.92 670.88 L43.08 672.72 L41.23 670.88 L43.08 669.03 L41.23 667.19Z M43.45 665.24 L45.3 667.08 L47.14 665.24 L48.99 667.08 L47.14 668.93 L48.99 670.77 L47.14 672.62 L45.3 670.77 L43.45 672.62 L41.61 670.77 L43.45 668.93 L41.61 667.08Z M43.83 664.61 L45.67 666.46 L47.52 664.61 L49.37 666.46 L47.52 668.3 L49.37 670.15 L47.52 671.99 L45.67 670.15 L43.83 671.99 L41.98 670.15 L43.83 668.3 L41.98 666.46Z M44.21 663.78 L46.05 665.63 L47.9 663.78 L49.74 665.63 L47.9 667.48 L49.74 669.32 L47.9 671.17 L46.05 669.32 L44.21 671.17 L42.36 669.32 L44.21 667.48 L42.36 665.63Z M44.58 662.84 L46.43 664.69 L48.27 662.84 L50.12 664.69 L48.27 666.53 L50.12 668.38 L48.27 670.22 L46.43 668.38 L44.58 670.22 L42.74 668.38 L44.58 666.53 L42.74 664.69Z M44.96 663.93 L46.8 665.78 L48.65 663.93 L50.5 665.78 L48.65 667.62 L50.5 669.47 L48.65 671.31 L46.8 669.47 L44.96 671.31 L43.11 669.47 L44.96 667.62 L43.11 665.78Z M45.34 663.27 L47.18 665.11 L49.03 663.27 L50.87 665.11 L49.03 666.96 L50.87 668.8 L49.03 670.65 L47.18 668.8 L45.34 670.65 L43.49 668.8 L45.34 666.96 L43.49 665.11Z M45.71 662.97 L47.56 664.81 L49.4 662.97 L51.25 664.81 L49.4 666.66 L51.25 668.5 L49.4 670.35 L47.56 668.5 L45.71 670.35 L43.87 668.5 L45.71 666.66 L43.87 664.81Z M46.09 663.33 L47.93 665.17 L49.78 663.33 L51.63 665.17 L49.78 667.02 L51.63 668.86 L49.78 670.71 L47.93 668.86 L46.09 670.71 L44.24 668.86 L46.09 667.02 L44.24 665.17Z M46.47 662.26 L48.31 664.11 L50.16 662.26 L52 664.11 L50.16 665.95 L52 667.8 L50.16 669.64 L48.31 667.8 L46.47 669.64 L44.62 667.8 L46.47 665.95 L44.62 664.11Z M46.84 661.93 L48.69 663.77 L50.53 661.93 L52.38 663.77 L50.53 665.62 L52.38 667.46 L50.53 669.31 L48.69 667.46 L46.84 669.31 L45 667.46 L46.84 665.62 L45 663.77Z M47.22 660.56 L49.06 662.41 L50.91 660.56 L52.76 662.41 L50.91 664.25 L52.76 666.1 L50.91 667.94 L49.06 666.1 L47.22 667.94 L45.37 666.1 L47.22 664.25 L45.37 662.41Z M47.6 660.76 L49.44 662.6 L51.29 660.76 L53.13 662.6 L51.29 664.45 L53.13 666.29 L51.29 668.14 L49.44 666.29 L47.6 668.14 L45.75 666.29 L47.6 664.45 L45.75 662.6Z M47.72 661.31 L49.57 663.16 L51.41 661.31 L53.26 663.16 L51.41 665 L53.26 666.85 L51.41 668.69 L49.57 666.85 L47.72 668.69 L45.88 666.85 L47.72 665 L45.88 663.16Z M48.35 659.64 L50.19 661.48 L52.04 659.64 L53.89 661.48 L52.04 663.33 L53.89 665.17 L52.04 667.02 L50.19 665.17 L48.35 667.02 L46.5 665.17 L48.35 663.33 L46.5 661.48Z M48.98 659.46 L50.82 661.31 L52.67 659.46 L54.51 661.31 L52.67 663.15 L54.51 665 L52.67 666.84 L50.82 665 L48.98 666.84 L47.13 665 L48.98 663.15 L47.13 661.31Z M49.6 659.46 L51.45 661.31 L53.3 659.46 L55.14 661.31 L53.3 663.15 L55.14 665 L53.3 666.84 L51.45 665 L49.6 666.84 L47.76 665 L49.6 663.15 L47.76 661.31Z M50.23 658.3 L52.08 660.15 L53.92 658.3 L55.77 660.15 L53.92 661.99 L55.77 663.84 L53.92 665.68 L52.08 663.84 L50.23 665.68 L48.39 663.84 L50.23 661.99 L48.39 660.15Z M50.86 657.66 L52.71 659.51 L54.55 657.66 L56.4 659.51 L54.55 661.35 L56.4 663.2 L54.55 665.04 L52.71 663.2 L50.86 665.04 L49.01 663.2 L50.86 661.35 L49.01 659.51Z M51.49 657.16 L53.33 659 L55.18 657.16 L57.02 659 L55.18 660.85 L57.02 662.69 L55.18 664.54 L53.33 662.69 L51.49 664.54 L49.64 662.69 L51.49 660.85 L49.64 659Z M52.12 656.11 L53.96 657.96 L55.81 656.11 L57.65 657.96 L55.81 659.8 L57.65 661.65 L55.81 663.49 L53.96 661.65 L52.12 663.49 L50.27 661.65 L52.12 659.8 L50.27 657.96Z M52.74 656.52 L54.59 658.36 L56.43 656.52 L58.28 658.36 L56.43 660.21 L58.28 662.05 L56.43 663.9 L54.59 662.05 L52.74 663.9 L50.9 662.05 L52.74 660.21 L50.9 658.36Z M53.37 654.98 L55.22 656.82 L57.06 654.98 L58.91 656.82 L57.06 658.67 L58.91 660.51 L57.06 662.36 L55.22 660.51 L53.37 662.36 L51.53 660.51 L53.37 658.67 L51.53 656.82Z M54 653.76 L55.84 655.6 L57.69 653.76 L59.54 655.6 L57.69 657.45 L59.54 659.29 L57.69 661.14 L55.84 659.29 L54 661.14 L52.15 659.29 L54 657.45 L52.15 655.6Z M54.63 653.19 L56.47 655.04 L58.32 653.19 L60.16 655.04 L58.32 656.89 L60.16 658.73 L58.32 660.58 L56.47 658.73 L54.63 660.58 L52.78 658.73 L54.63 656.89 L52.78 655.04Z M55.25 652.44 L57.1 654.29 L58.95 652.44 L60.79 654.29 L58.95 656.13 L60.79 657.98 L58.95 659.82 L57.1 657.98 L55.25 659.82 L53.41 657.98 L55.25 656.13 L53.41 654.29Z M55.88 651.8 L57.73 653.65 L59.57 651.8 L61.42 653.65 L59.57 655.49 L61.42 657.34 L59.57 659.18 L57.73 657.34 L55.88 659.18 L54.04 657.34 L55.88 655.49 L54.04 653.65Z M56.51 651 L58.36 652.84 L60.2 651 L62.05 652.84 L60.2 654.69 L62.05 656.54 L60.2 658.38 L58.36 656.54 L56.51 658.38 L54.66 656.54 L56.51 654.69 L54.66 652.84Z M57.14 651.56 L58.98 653.4 L60.83 651.56 L62.67 653.4 L60.83 655.25 L62.67 657.09 L60.83 658.94 L58.98 657.09 L57.14 658.94 L55.29 657.09 L57.14 655.25 L55.29 653.4Z M57.77 650.02 L59.61 651.87 L61.46 650.02 L63.3 651.87 L61.46 653.71 L63.3 655.56 L61.46 657.4 L59.61 655.56 L57.77 657.4 L55.92 655.56 L57.77 653.71 L55.92 651.87Z M58.39 650.62 L60.24 652.47 L62.08 650.62 L63.93 652.47 L62.08 654.32 L63.93 656.16 L62.08 658.01 L60.24 656.16 L58.39 658.01 L56.55 656.16 L58.39 654.32 L56.55 652.47Z M59.02 649.41 L60.87 651.26 L62.71 649.41 L64.56 651.26 L62.71 653.11 L64.56 654.95 L62.71 656.8 L60.87 654.95 L59.02 656.8 L57.18 654.95 L59.02 653.11 L57.18 651.26Z M59.65 649.38 L61.49 651.22 L63.34 649.38 L65.19 651.22 L63.34 653.07 L65.19 654.92 L63.34 656.76 L61.49 654.92 L59.65 656.76 L57.8 654.92 L59.65 653.07 L57.8 651.22Z M60.28 647.39 L62.12 649.24 L63.97 647.39 L65.81 649.24 L63.97 651.08 L65.81 652.93 L63.97 654.77 L62.12 652.93 L60.28 654.77 L58.43 652.93 L60.28 651.08 L58.43 649.24Z M60.9 646.62 L62.75 648.47 L64.6 646.62 L66.44 648.47 L64.6 650.32 L66.44 652.16 L64.6 654.01 L62.75 652.16 L60.9 654.01 L59.06 652.16 L60.9 650.32 L59.06 648.47Z M61.53 646.69 L63.38 648.53 L65.22 646.69 L67.07 648.53 L65.22 650.38 L67.07 652.23 L65.22 654.07 L63.38 652.23 L61.53 654.07 L59.69 652.23 L61.53 650.38 L59.69 648.53Z M62.16 645.15 L64.01 647 L65.85 645.15 L67.7 647 L65.85 648.84 L67.7 650.69 L65.85 652.53 L64.01 650.69 L62.16 652.53 L60.31 650.69 L62.16 648.84 L60.31 647Z M62.79 645.64 L64.63 647.48 L66.48 645.64 L68.32 647.48 L66.48 649.33 L68.32 651.17 L66.48 653.02 L64.63 651.17 L62.79 653.02 L60.94 651.17 L62.79 649.33 L60.94 647.48Z M63.42 644.63 L65.26 646.47 L67.11 644.63 L68.95 646.47 L67.11 648.32 L68.95 650.16 L67.11 652.01 L65.26 650.16 L63.42 652.01 L61.57 650.16 L63.42 648.32 L61.57 646.47Z M64.04 643.99 L65.89 645.83 L67.73 643.99 L69.58 645.83 L67.73 647.68 L69.58 649.53 L67.73 651.37 L65.89 649.53 L64.04 651.37 L62.2 649.53 L64.04 647.68 L62.2 645.83Z M65.05 643.53 L66.89 645.38 L68.74 643.53 L70.58 645.38 L68.74 647.22 L70.58 649.07 L68.74 650.91 L66.89 649.07 L65.05 650.91 L63.2 649.07 L65.05 647.22 L63.2 645.38Z M66.05 641.83 L67.9 643.67 L69.74 641.83 L71.59 643.67 L69.74 645.52 L71.59 647.36 L69.74 649.21 L67.9 647.36 L66.05 649.21 L64.21 647.36 L66.05 645.52 L64.21 643.67Z M67.06 640.12 L68.9 641.97 L70.75 640.12 L72.59 641.97 L70.75 643.82 L72.59 645.66 L70.75 647.51 L68.9 645.66 L67.06 647.51 L65.21 645.66 L67.06 643.82 L65.21 641.97Z M68.06 640.46 L69.91 642.31 L71.75 640.46 L73.6 642.31 L71.75 644.15 L73.6 646 L71.75 647.85 L69.91 646 L68.06 647.85 L66.22 646 L68.06 644.15 L66.22 642.31Z M69.07 638.57 L70.91 640.41 L72.76 638.57 L74.6 640.41 L72.76 642.26 L74.6 644.1 L72.76 645.95 L70.91 644.1 L69.07 645.95 L67.22 644.1 L69.07 642.26 L67.22 640.41Z M70.07 638.03 L71.92 639.88 L73.76 638.03 L75.61 639.88 L73.76 641.72 L75.61 643.57 L73.76 645.42 L71.92 643.57 L70.07 645.42 L68.22 643.57 L70.07 641.72 L68.22 639.88Z M71.07 636.12 L72.92 637.97 L74.77 636.12 L76.61 637.97 L74.77 639.81 L76.61 641.66 L74.77 643.5 L72.92 641.66 L71.07 643.5 L69.23 641.66 L71.07 639.81 L69.23 637.97Z M72.08 635.7 L73.92 637.55 L75.77 635.7 L77.62 637.55 L75.77 639.39 L77.62 641.24 L75.77 643.08 L73.92 641.24 L72.08 643.08 L70.23 641.24 L72.08 639.39 L70.23 637.55Z M73.08 634.58 L74.93 636.43 L76.77 634.58 L78.62 636.43 L76.77 638.27 L78.62 640.12 L76.77 641.96 L74.93 640.12 L73.08 641.96 L71.24 640.12 L73.08 638.27 L71.24 636.43Z M74.09 633.58 L75.93 635.42 L77.78 633.58 L79.62 635.42 L77.78 637.27 L79.62 639.11 L77.78 640.96 L75.93 639.11 L74.09 640.96 L72.24 639.11 L74.09 637.27 L72.24 635.42Z M75.09 632.75 L76.94 634.6 L78.78 632.75 L80.63 634.6 L78.78 636.45 L80.63 638.29 L78.78 640.14 L76.94 638.29 L75.09 640.14 L73.25 638.29 L75.09 636.45 L73.25 634.6Z M78.61 629.07 L80.45 630.92 L82.3 629.07 L84.14 630.92 L82.3 632.76 L84.14 634.61 L82.3 636.45 L80.45 634.61 L78.61 636.45 L76.76 634.61 L78.61 632.76 L76.76 630.92Z M80.37 627.04 L82.21 628.89 L84.06 627.04 L85.9 628.89 L84.06 630.73 L85.9 632.58 L84.06 634.42 L82.21 632.58 L80.37 634.42 L78.52 632.58 L80.37 630.73 L78.52 628.89Z M83.63 623.74 L85.48 625.58 L87.32 623.74 L89.17 625.58 L87.32 627.43 L89.17 629.28 L87.32 631.12 L85.48 629.28 L83.63 631.12 L81.78 629.28 L83.63 627.43 L81.78 625.58Z M86.39 621.45 L88.24 623.3 L90.08 621.45 L91.93 623.3 L90.08 625.14 L91.93 626.99 L90.08 628.83 L88.24 626.99 L86.39 628.83 L84.55 626.99 L86.39 625.14 L84.55 623.3Z M91.92 615.36 L93.76 617.2 L95.61 615.36 L97.45 617.2 L95.61 619.05 L97.45 620.89 L95.61 622.74 L93.76 620.89 L91.92 622.74 L90.07 620.89 L91.92 619.05 L90.07 617.2Z M93.67 614.09 L95.52 615.93 L97.37 614.09 L99.21 615.93 L97.37 617.78 L99.21 619.62 L97.37 621.47 L95.52 619.62 L93.67 621.47 L91.83 619.62 L93.67 617.78 L91.83 615.93Z M107.99 599.61 L109.83 601.45 L111.68 599.61 L113.52 601.45 L111.68 603.3 L113.52 605.15 L111.68 606.99 L109.83 605.15 L107.99 606.99 L106.14 605.15 L107.99 603.3 L106.14 601.45Z M113.01 593.77 L114.86 595.61 L116.7 593.77 L118.55 595.61 L116.7 597.46 L118.55 599.3 L116.7 601.15 L114.86 599.3 L113.01 601.15 L111.16 599.3 L113.01 597.46 L111.16 595.61Z M116.02 588.69 L117.87 590.53 L119.71 588.69 L121.56 590.53 L119.71 592.38 L121.56 594.22 L119.71 596.07 L117.87 594.22 L116.02 596.07 L114.18 594.22 L116.02 592.38 L114.18 590.53Z M131.34 576.24 L133.19 578.09 L135.03 576.24 L136.88 578.09 L135.03 579.93 L136.88 581.78 L135.03 583.62 L133.19 581.78 L131.34 583.62 L129.5 581.78 L131.34 579.93 L129.5 578.09Z M140.63 565.83 L142.48 567.67 L144.32 565.83 L146.17 567.67 L144.32 569.52 L146.17 571.36 L144.32 573.21 L142.48 571.36 L140.63 573.21 L138.79 571.36 L140.63 569.52 L138.79 567.67Z M144.15 561.76 L145.99 563.61 L147.84 561.76 L149.68 563.61 L147.84 565.45 L149.68 567.3 L147.84 569.14 L145.99 567.3 L144.15 569.14 L142.3 567.3 L144.15 565.45 L142.3 563.61Z M157.21 550.08 L159.05 551.92 L160.9 550.08 L162.74 551.92 L160.9 553.77 L162.74 555.62 L160.9 557.46 L159.05 555.62 L157.21 557.46 L155.36 555.62 L157.21 553.77 L155.36 551.92Z M166.5 540.43 L168.34 542.27 L170.19 540.43 L172.03 542.27 L170.19 544.12 L172.03 545.96 L170.19 547.81 L168.34 545.96 L166.5 547.81 L164.65 545.96 L166.5 544.12 L164.65 542.27Z M202.41 503.85 L204.25 505.7 L206.1 503.85 L207.94 505.7 L206.1 507.54 L207.94 509.39 L206.1 511.23 L204.25 509.39 L202.41 511.23 L200.56 509.39 L202.41 507.54 L200.56 505.7Z" fill="#008080" stroke="#008080" stroke-width="0.7" stroke-linejoin="round"/>
<path d="M35 675.25 L35.84 677.84 L38.56 677.84 L36.36 679.43 L37.2 682.02 L35 680.42 L32.8 682.02 L33.64 679.43 L31.44 677.84 L34.16 677.84Z M35.13 675 L35.97 677.58 L38.69 677.58 L36.49 679.18 L37.33 681.76 L35.13 680.17 L32.93 681.76 L33.77 679.18 L31.57 677.58 L34.29 677.58Z M35.25 675 L36.09 677.58 L38.81 677.58 L36.61 679.18 L37.45 681.76 L35.25 680.17 L33.05 681.76 L33.89 679.18 L31.7 677.58 L34.41 677.58Z M35.38 674.74 L36.22 677.33 L38.94 677.33 L36.74 678.93 L37.58 681.51 L35.38 679.91 L33.18 681.51 L34.02 678.93 L31.82 677.33 L34.54 677.33Z M35.5 674.62 L36.34 677.2 L39.06 677.2 L36.86 678.8 L37.7 681.38 L35.5 679.79 L33.31 681.38 L34.15 678.8 L31.95 677.2 L34.66 677.2Z M35.76 674.49 L36.6 677.07 L39.31 677.07 L37.11 678.67 L37.95 681.26 L35.76 679.66 L33.56 681.26 L34.4 678.67 L32.2 677.07 L34.92 677.07Z M36.01 674.11 L36.85 676.69 L39.56 676.69 L37.37 678.29 L38.21 680.88 L36.01 679.28 L33.81 680.88 L34.65 678.29 L32.45 676.69 L35.17 676.69Z M36.26 673.98 L37.1 676.57 L39.82 676.57 L37.62 678.16 L38.46 680.75 L36.26 679.15 L34.06 680.75 L34.9 678.16 L32.7 676.57 L35.42 676.57Z M36.51 673.6 L37.35 676.18 L40.07 676.18 L37.87 677.78 L38.71 680.37 L36.51 678.77 L34.31 680.37 L35.15 677.78 L32.95 676.18 L35.67 676.18Z M36.76 673.47 L37.6 676.06 L40.32 676.06 L38.12 677.66 L38.96 680.24 L36.76 678.64 L34.56 680.24 L35.4 677.66 L33.2 676.06 L35.92 676.06Z M37.01 672.96 L37.85 675.55 L40.57 675.55 L38.37 677.15 L39.21 679.73 L37.01 678.14 L34.81 679.73 L35.65 677.15 L33.45 675.55 L36.17 675.55Z M38.52 672.2 L39.36 674.79 L42.08 674.79 L39.88 676.39 L40.72 678.97 L38.52 677.37 L36.32 678.97 L37.16 676.39 L34.96 674.79 L37.68 674.79Z M43.54 666.36 L44.38 668.95 L47.1 668.95 L44.9 670.54 L45.74 673.13 L43.54 671.53 L41.34 673.13 L42.18 670.54 L39.98 668.95 L42.7 668.95Z M44.04 665.85 L44.88 668.44 L47.6 668.44 L45.4 670.04 L46.24 672.62 L44.04 671.02 L41.84 672.62 L42.68 670.04 L40.48 668.44 L43.2 668.44Z M44.17 665.6 L45.01 668.18 L47.73 668.18 L45.53 669.78 L46.37 672.37 L44.17 670.77 L41.97 672.37 L42.81 669.78 L40.61 668.18 L43.33 668.18Z M44.54 665.34 L45.38 667.93 L48.1 667.93 L45.9 669.53 L46.74 672.11 L44.54 670.52 L42.35 672.11 L43.19 669.53 L40.99 667.93 L43.7 667.93Z M70.66 637.15 L71.5 639.74 L74.22 639.74 L72.02 641.33 L72.86 643.92 L70.66 642.32 L68.46 643.92 L69.3 641.33 L67.1 639.74 L69.82 639.74Z M75.93 634.86 L76.77 637.45 L79.49 637.45 L77.29 639.05 L78.13 641.63 L75.93 640.04 L73.73 641.63 L74.57 639.05 L72.38 637.45 L75.09 637.45Z M94.52 617.08 L95.36 619.67 L98.07 619.67 L95.87 621.27 L96.71 623.85 L94.52 622.26 L92.32 623.85 L93.16 621.27 L90.96 619.67 L93.68 619.67Z M108.08 600.57 L108.92 603.16 L111.63 603.16 L109.43 604.76 L110.27 607.34 L108.08 605.75 L105.88 607.34 L106.72 604.76 L104.52 603.16 L107.24 603.16Z M109.83 599.81 L110.67 602.4 L113.39 602.4 L111.19 604 L112.03 606.58 L109.83 604.98 L107.63 606.58 L108.47 604 L106.28 602.4 L108.99 602.4Z M134.94 576.7 L135.78 579.28 L138.5 579.28 L136.3 580.88 L137.14 583.47 L134.94 581.87 L132.75 583.47 L133.59 580.88 L131.39 579.28 L134.1 579.28Z M161.56 544.69 L162.4 547.28 L165.12 547.28 L162.92 548.88 L163.76 551.46 L161.56 549.87 L159.36 551.46 L160.2 548.88 L158 547.28 L160.72 547.28Z M192.7 508.88 L193.54 511.47 L196.26 511.47 L194.06 513.06 L194.9 515.65 L192.7 514.05 L190.5 515.65 L191.34 513.06 L189.14 511.47 L191.86 511.47Z M217.56 486.78 L218.4 489.37 L221.12 489.37 L218.92 490.97 L219.76 493.55 L217.56 491.95 L215.36 493.55 L216.2 490.97 L214 489.37 L216.72 489.37Z" fill="#00ff00" stroke="#00ff00" stroke-width="0.3"/>
<line x1="34.5" y1="679.5" x2="260.5" y2="450.9" stroke="#000" stroke-width="1.2" stroke-dasharray="4.3 2.2"/>
</g>
<line x1="34.5" y1="450.4" x2="34.5" y2="680" stroke="#000" stroke-opacity="0.55" stroke-width="1.0"/>
<line x1="34" y1="450.9" x2="261" y2="450.9" stroke="#000" stroke-opacity="0.42" stroke-width="1.0"/>
<line x1="260.5" y1="450.4" x2="260.5" y2="680" stroke="#000" stroke-opacity="0.55" stroke-width="1.0"/>
<line x1="34" y1="679.5" x2="261" y2="679.5" stroke="#000" stroke-opacity="0.55" stroke-width="1.0"/>
<path d="M34.5 679.5h-2.3 M34.5 654.1h-2.3 M34.5 628.7h-2.3 M34.5 603.3h-2.3 M34.5 577.9h-2.3 M34.5 552.5h-2.3 M34.5 527.1h-2.3 M34.5 501.7h-2.3 M34.5 476.3h-2.3 M34.5 450.9h-2.3 M34.5 679.5v2.3 M84.72 679.5v2.3 M134.94 679.5v2.3 M185.17 679.5v2.3 M235.39 679.5v2.3" stroke="#000" stroke-opacity="0.85" stroke-width="0.8" fill="none"/>
<g font-size="9.3" fill="#000">
<text x="30.9" y="683.37" text-anchor="end">0</text>
<text x="30.9" y="657.97" text-anchor="end">100</text>
<text x="30.9" y="632.57" text-anchor="end">200</text>
<text x="30.9" y="607.17" text-anchor="end">300</text>
<text x="30.9" y="581.77" text-anchor="end">400</text>
<text x="30.9" y="556.37" text-anchor="end">500</text>
<text x="30.9" y="530.97" text-anchor="end">600</text>
<text x="30.9" y="505.57" text-anchor="end">700</text>
<text x="30.9" y="480.17" text-anchor="end">800</text>
<text x="30.9" y="454.77" text-anchor="end">900</text>
<text x="34.5" y="690.83" text-anchor="middle">0</text>
<text x="84.72" y="690.83" text-anchor="middle">200</text>
<text x="134.94" y="690.83" text-anchor="middle">400</text>
<text x="185.17" y="690.83" text-anchor="middle">600</text>
<text x="235.39" y="690.83" text-anchor="middle">800</text>
</g>
<text x="147.5" y="703.66" text-anchor="middle" font-size="12.13" fill="#000">Experimental Viscosity (mPa.s)</text>
<text transform="translate(12.05 565.2) rotate(-90)" text-anchor="middle" font-size="12.13" fill="#000">Predicted Values</text>
<text x="257.3" y="669" text-anchor="end" font-size="13.45" fill="#000">AdaBoost-SVR</text>
<rect x="38.75" y="455.34" width="75.43" height="26.29" rx="1.2" fill="#fff" fill-opacity="0.8" stroke="#d9d9d9" stroke-width="0.6"/>
<path d="M48.81 458.98 L50.68 460.85 L52.55 458.98 L54.42 460.85 L52.55 462.72 L54.42 464.59 L52.55 466.46 L50.68 464.59 L48.81 466.46 L46.94 464.59 L48.81 462.72 L46.94 460.85Z" fill="#008080" stroke="#008080" stroke-width="0.7" stroke-linejoin="round"/>
<path d="M50.68 470.71 L51.56 473.44 L54.43 473.44 L52.11 475.12 L53 477.84 L50.68 476.16 L48.36 477.84 L49.25 475.12 L46.93 473.44 L49.79 473.44Z" fill="#00ff00" stroke="#00ff00" stroke-width="0.5" stroke-linejoin="round"/>
<text x="65.85" y="464.91" font-size="8.39" fill="#000">Training data</text>
<text x="65.85" y="477.04" font-size="8.39" fill="#000">Test data</text>
</g>
<g>
<line x1="382.7" y1="441" x2="608.5" y2="441" stroke="#e4e4e4" stroke-width="0.8"/>
<line x1="615.2" y1="450.9" x2="615.2" y2="679.5" stroke="#d4d4d4" stroke-width="0.9"/>
<clipPath id="c3t"><rect x="382.7" y="0" width="226.1" height="440.8"/></clipPath>
<clipPath id="c3r"><rect x="615.5" y="450.7" width="90" height="228.6"/></clipPath>
<g clip-path="url(#c3t)" stroke="#000" stroke-opacity="0.55" stroke-width="0.5">
<rect x="383.76" y="395.74" width="7.63" height="45.06" fill="#008080" fill-opacity="0.5"/>
<rect x="391.39" y="420.09" width="7.63" height="20.71" fill="#008080" fill-opacity="0.5"/>
<rect x="399.02" y="427.57" width="7.63" height="13.23" fill="#008080" fill-opacity="0.5"/>
<rect x="406.64" y="432.41" width="7.63" height="8.39" fill="#008080" fill-opacity="0.5"/>
<rect x="414.27" y="435.75" width="7.63" height="5.05" fill="#008080" fill-opacity="0.5"/>
<rect x="421.9" y="437.06" width="7.63" height="3.74" fill="#008080" fill-opacity="0.5"/>
<rect x="429.53" y="438.58" width="7.63" height="2.22" fill="#008080" fill-opacity="0.5"/>
<rect x="437.15" y="437.47" width="7.63" height="3.33" fill="#008080" fill-opacity="0.5"/>
<rect x="460.04" y="438.58" width="7.63" height="2.22" fill="#008080" fill-opacity="0.5"/>
<rect x="475.29" y="439.69" width="7.63" height="1.11" fill="#008080" fill-opacity="0.5"/>
<rect x="490.55" y="438.58" width="7.63" height="2.22" fill="#008080" fill-opacity="0.5"/>
<rect x="513.43" y="439.69" width="7.63" height="1.11" fill="#008080" fill-opacity="0.5"/>
<rect x="551.57" y="439.69" width="7.63" height="1.11" fill="#008080" fill-opacity="0.5"/>
<rect x="604.96" y="438.17" width="7.63" height="2.63" fill="#008080" fill-opacity="0.5"/>
<rect x="383.76" y="374.73" width="6.05" height="66.07" fill="#00ff00" fill-opacity="0.5"/>
<rect x="389.81" y="416.55" width="6.05" height="24.25" fill="#00ff00" fill-opacity="0.5"/>
<rect x="414.02" y="435.04" width="6.05" height="5.76" fill="#00ff00" fill-opacity="0.5"/>
<rect x="420.07" y="435.04" width="6.05" height="5.76" fill="#00ff00" fill-opacity="0.5"/>
<rect x="438.23" y="435.04" width="6.05" height="5.76" fill="#00ff00" fill-opacity="0.5"/>
<rect x="450.33" y="435.04" width="6.05" height="5.76" fill="#00ff00" fill-opacity="0.5"/>
<rect x="456.38" y="435.04" width="6.05" height="5.76" fill="#00ff00" fill-opacity="0.5"/>
<rect x="480.59" y="435.04" width="6.05" height="5.76" fill="#00ff00" fill-opacity="0.5"/>
<rect x="504.79" y="435.04" width="6.05" height="5.76" fill="#00ff00" fill-opacity="0.5"/>
<rect x="535.05" y="435.04" width="6.05" height="5.76" fill="#00ff00" fill-opacity="0.5"/>
<rect x="559.26" y="435.04" width="6.05" height="5.76" fill="#00ff00" fill-opacity="0.5"/>
</g>
<g clip-path="url(#c3r)" stroke="#000" stroke-opacity="0.55" stroke-width="0.5">
<rect x="615.5" y="671.25" width="46.07" height="7.75" fill="#008080" fill-opacity="0.5"/>
<rect x="615.5" y="663.5" width="20.41" height="7.75" fill="#008080" fill-opacity="0.5"/>
<rect x="615.5" y="655.75" width="12.93" height="7.75" fill="#008080" fill-opacity="0.5"/>
<rect x="615.5" y="648" width="8.18" height="7.75" fill="#008080" fill-opacity="0.5"/>
<rect x="615.5" y="640.25" width="5.05" height="7.75" fill="#008080" fill-opacity="0.5"/>
<rect x="615.5" y="632.5" width="3.64" height="7.75" fill="#008080" fill-opacity="0.5"/>
<rect x="615.5" y="624.75" width="2.63" height="7.75" fill="#008080" fill-opacity="0.5"/>
<rect x="615.5" y="617" width="3.33" height="7.75" fill="#008080" fill-opacity="0.5"/>
<rect x="615.5" y="593.75" width="2.22" height="7.75" fill="#008080" fill-opacity="0.5"/>
<rect x="615.5" y="578.25" width="1.11" height="7.75" fill="#008080" fill-opacity="0.5"/>
<rect x="615.5" y="562.75" width="2.42" height="7.75" fill="#008080" fill-opacity="0.5"/>
<rect x="615.5" y="539.5" width="1.11" height="7.75" fill="#008080" fill-opacity="0.5"/>
<rect x="615.5" y="500.76" width="1.11" height="7.75" fill="#008080" fill-opacity="0.5"/>
<rect x="615.5" y="446.51" width="2.73" height="7.75" fill="#008080" fill-opacity="0.5"/>
<rect x="615.5" y="672.84" width="67.29" height="6.16" fill="#00ff00" fill-opacity="0.5"/>
<rect x="615.5" y="666.68" width="24.35" height="6.16" fill="#00ff00" fill-opacity="0.5"/>
<rect x="615.5" y="642.04" width="5.96" height="6.16" fill="#00ff00" fill-opacity="0.5"/>
<rect x="615.5" y="635.88" width="5.96" height="6.16" fill="#00ff00" fill-opacity="0.5"/>
<rect x="615.5" y="617.4" width="5.96" height="6.16" fill="#00ff00" fill-opacity="0.5"/>
<rect x="615.5" y="605.08" width="5.96" height="6.16" fill="#00ff00" fill-opacity="0.5"/>
<rect x="615.5" y="598.92" width="5.96" height="6.16" fill="#00ff00" fill-opacity="0.5"/>
<rect x="615.5" y="574.28" width="5.96" height="6.16" fill="#00ff00" fill-opacity="0.5"/>
<rect x="615.5" y="549.64" width="5.96" height="6.16" fill="#00ff00" fill-opacity="0.5"/>
<rect x="615.5" y="518.84" width="5.96" height="6.16" fill="#00ff00" fill-opacity="0.5"/>
<rect x="615.5" y="494.2" width="5.96" height="6.16" fill="#00ff00" fill-opacity="0.5"/>
</g>
<clipPath id="c3m"><rect x="382.7" y="450.9" width="225.8" height="228.6"/></clipPath>
<g clip-path="url(#c3m)">
<path d="M381.11 675.55 L382.95 677.39 L384.79 675.55 L386.64 677.39 L384.79 679.24 L386.64 681.08 L384.79 682.92 L382.95 681.08 L381.11 682.92 L379.26 681.08 L381.11 679.24 L379.26 677.39Z M381.48 675.09 L383.33 676.93 L385.17 675.09 L387.01 676.93 L385.17 678.78 L387.01 680.62 L385.17 682.46 L383.33 680.62 L381.48 682.46 L379.64 680.62 L381.48 678.78 L379.64 676.93Z M381.86 674.97 L383.7 676.82 L385.55 674.97 L387.39 676.82 L385.55 678.66 L387.39 680.5 L385.55 682.35 L383.7 680.5 L381.86 682.35 L380.02 680.5 L381.86 678.66 L380.02 676.82Z M382.24 674.29 L384.08 676.14 L385.92 674.29 L387.77 676.14 L385.92 677.98 L387.77 679.82 L385.92 681.67 L384.08 679.82 L382.24 681.67 L380.39 679.82 L382.24 677.98 L380.39 676.14Z M382.61 674.11 L384.46 675.95 L386.3 674.11 L388.14 675.95 L386.3 677.8 L388.14 679.64 L386.3 681.48 L384.46 679.64 L382.61 681.48 L380.77 679.64 L382.61 677.8 L380.77 675.95Z M382.99 673.94 L384.83 675.78 L386.68 673.94 L388.52 675.78 L386.68 677.62 L388.52 679.47 L386.68 681.31 L384.83 679.47 L382.99 681.31 L381.14 679.47 L382.99 677.62 L381.14 675.78Z M383.37 673.39 L385.21 675.23 L387.05 673.39 L388.9 675.23 L387.05 677.08 L388.9 678.92 L387.05 680.76 L385.21 678.92 L383.37 680.76 L381.52 678.92 L383.37 677.08 L381.52 675.23Z M383.74 672.79 L385.59 674.63 L387.43 672.79 L389.27 674.63 L387.43 676.47 L389.27 678.32 L387.43 680.16 L385.59 678.32 L383.74 680.16 L381.9 678.32 L383.74 676.47 L381.9 674.63Z M384.12 672.45 L385.96 674.3 L387.81 672.45 L389.65 674.3 L387.81 676.14 L389.65 677.98 L387.81 679.83 L385.96 677.98 L384.12 679.83 L382.27 677.98 L384.12 676.14 L382.27 674.3Z M384.49 672.33 L386.34 674.18 L388.18 672.33 L390.03 674.18 L388.18 676.02 L390.03 677.86 L388.18 679.71 L386.34 677.86 L384.49 679.71 L382.65 677.86 L384.49 676.02 L382.65 674.18Z M384.87 671.64 L386.71 673.48 L388.56 671.64 L390.4 673.48 L388.56 675.33 L390.4 677.17 L388.56 679.01 L386.71 677.17 L384.87 679.01 L383.03 677.17 L384.87 675.33 L383.03 673.48Z M385.25 671.38 L387.09 673.23 L388.93 671.38 L390.78 673.23 L388.93 675.07 L390.78 676.91 L388.93 678.76 L387.09 676.91 L385.25 678.76 L383.4 676.91 L385.25 675.07 L383.4 673.23Z M385.62 670.91 L387.47 672.75 L389.31 670.91 L391.15 672.75 L389.31 674.6 L391.15 676.44 L389.31 678.29 L387.47 676.44 L385.62 678.29 L383.78 676.44 L385.62 674.6 L383.78 672.75Z M386 670.55 L387.84 672.39 L389.69 670.55 L391.53 672.39 L389.69 674.23 L391.53 676.08 L389.69 677.92 L387.84 676.08 L386 677.92 L384.16 676.08 L386 674.23 L384.16 672.39Z M386.38 670.43 L388.22 672.27 L390.06 670.43 L391.91 672.27 L390.06 674.12 L391.91 675.96 L390.06 677.81 L388.22 675.96 L386.38 677.81 L384.53 675.96 L386.38 674.12 L384.53 672.27Z M386.75 669.78 L388.6 671.62 L390.44 669.78 L392.28 671.62 L390.44 673.47 L392.28 675.31 L390.44 677.16 L388.6 675.31 L386.75 677.16 L384.91 675.31 L386.75 673.47 L384.91 671.62Z M387.13 669.57 L388.97 671.41 L390.82 669.57 L392.66 671.41 L390.82 673.26 L392.66 675.1 L390.82 676.95 L388.97 675.1 L387.13 676.95 L385.28 675.1 L387.13 673.26 L385.28 671.41Z M387.5 668.81 L389.35 670.65 L391.19 668.81 L393.04 670.65 L391.19 672.49 L393.04 674.34 L391.19 676.18 L389.35 674.34 L387.5 676.18 L385.66 674.34 L387.5 672.49 L385.66 670.65Z M387.88 668.57 L389.72 670.42 L391.57 668.57 L393.41 670.42 L391.57 672.26 L393.41 674.1 L391.57 675.95 L389.72 674.1 L387.88 675.95 L386.04 674.1 L387.88 672.26 L386.04 670.42Z M388.26 668.31 L390.1 670.16 L391.95 668.31 L393.79 670.16 L391.95 672 L393.79 673.84 L391.95 675.69 L390.1 673.84 L388.26 675.69 L386.41 673.84 L388.26 672 L386.41 670.16Z M388.63 668.11 L390.48 669.96 L392.32 668.11 L394.17 669.96 L392.32 671.8 L394.17 673.64 L392.32 675.49 L390.48 673.64 L388.63 675.49 L386.79 673.64 L388.63 671.8 L386.79 669.96Z M389.01 667.55 L390.85 669.39 L392.7 667.55 L394.54 669.39 L392.7 671.24 L394.54 673.08 L392.7 674.92 L390.85 673.08 L389.01 674.92 L387.17 673.08 L389.01 671.24 L387.17 669.39Z M389.39 667.15 L391.23 668.99 L393.07 667.15 L394.92 668.99 L393.07 670.84 L394.92 672.68 L393.07 674.52 L391.23 672.68 L389.39 674.52 L387.54 672.68 L389.39 670.84 L387.54 668.99Z M389.76 667.01 L391.61 668.85 L393.45 667.01 L395.29 668.85 L393.45 670.7 L395.29 672.54 L393.45 674.39 L391.61 672.54 L389.76 674.39 L387.92 672.54 L389.76 670.7 L387.92 668.85Z M390.14 666.02 L391.98 667.86 L393.83 666.02 L395.67 667.86 L393.83 669.71 L395.67 671.55 L393.83 673.39 L391.98 671.55 L390.14 673.39 L388.3 671.55 L390.14 669.71 L388.3 667.86Z M390.52 665.96 L392.36 667.81 L394.2 665.96 L396.05 667.81 L394.2 669.65 L396.05 671.49 L394.2 673.34 L392.36 671.49 L390.52 673.34 L388.67 671.49 L390.52 669.65 L388.67 667.81Z M390.89 665.35 L392.74 667.2 L394.58 665.35 L396.42 667.2 L394.58 669.04 L396.42 670.88 L394.58 672.73 L392.74 670.88 L390.89 672.73 L389.05 670.88 L390.89 669.04 L389.05 667.2Z M391.27 665.47 L393.11 667.31 L394.96 665.47 L396.8 667.31 L394.96 669.16 L396.8 671 L394.96 672.84 L393.11 671 L391.27 672.84 L389.42 671 L391.27 669.16 L389.42 667.31Z M391.64 664.6 L393.49 666.44 L395.33 664.6 L397.18 666.44 L395.33 668.29 L397.18 670.13 L395.33 671.97 L393.49 670.13 L391.64 671.97 L389.8 670.13 L391.64 668.29 L389.8 666.44Z M392.02 664.75 L393.86 666.6 L395.71 664.75 L397.55 666.6 L395.71 668.44 L397.55 670.28 L395.71 672.13 L393.86 670.28 L392.02 672.13 L390.18 670.28 L392.02 668.44 L390.18 666.6Z M392.4 664.24 L394.24 666.09 L396.08 664.24 L397.93 666.09 L396.08 667.93 L397.93 669.78 L396.08 671.62 L394.24 669.78 L392.4 671.62 L390.55 669.78 L392.4 667.93 L390.55 666.09Z M392.77 663.65 L394.62 665.49 L396.46 663.65 L398.3 665.49 L396.46 667.34 L398.3 669.18 L396.46 671.03 L394.62 669.18 L392.77 671.03 L390.93 669.18 L392.77 667.34 L390.93 665.49Z M393.15 663.36 L394.99 665.2 L396.84 663.36 L398.68 665.2 L396.84 667.05 L398.68 668.89 L396.84 670.73 L394.99 668.89 L393.15 670.73 L391.31 668.89 L393.15 667.05 L391.31 665.2Z M393.53 663.4 L395.37 665.25 L397.21 663.4 L399.06 665.25 L397.21 667.09 L399.06 668.94 L397.21 670.78 L395.37 668.94 L393.53 670.78 L391.68 668.94 L393.53 667.09 L391.68 665.25Z M393.9 662.8 L395.75 664.64 L397.59 662.8 L399.43 664.64 L397.59 666.49 L399.43 668.33 L397.59 670.18 L395.75 668.33 L393.9 670.18 L392.06 668.33 L393.9 666.49 L392.06 664.64Z M394.28 662.07 L396.12 663.92 L397.97 662.07 L399.81 663.92 L397.97 665.76 L399.81 667.61 L397.97 669.45 L396.12 667.61 L394.28 669.45 L392.43 667.61 L394.28 665.76 L392.43 663.92Z M394.66 661.47 L396.5 663.31 L398.34 661.47 L400.19 663.31 L398.34 665.16 L400.19 667 L398.34 668.85 L396.5 667 L394.66 668.85 L392.81 667 L394.66 665.16 L392.81 663.31Z M395.03 661.3 L396.88 663.14 L398.72 661.3 L400.56 663.14 L398.72 664.99 L400.56 666.83 L398.72 668.67 L396.88 666.83 L395.03 668.67 L393.19 666.83 L395.03 664.99 L393.19 663.14Z M395.41 661.13 L397.25 662.97 L399.1 661.13 L400.94 662.97 L399.1 664.82 L400.94 666.66 L399.1 668.5 L397.25 666.66 L395.41 668.5 L393.56 666.66 L395.41 664.82 L393.56 662.97Z M395.78 660.56 L397.63 662.4 L399.47 660.56 L401.32 662.4 L399.47 664.25 L401.32 666.09 L399.47 667.93 L397.63 666.09 L395.78 667.93 L393.94 666.09 L395.78 664.25 L393.94 662.4Z M395.91 660.78 L397.75 662.62 L399.6 660.78 L401.44 662.62 L399.6 664.46 L401.44 666.31 L399.6 668.15 L397.75 666.31 L395.91 668.15 L394.07 666.31 L395.91 664.46 L394.07 662.62Z M396.54 659.85 L398.38 661.69 L400.22 659.85 L402.07 661.69 L400.22 663.53 L402.07 665.38 L400.22 667.22 L398.38 665.38 L396.54 667.22 L394.69 665.38 L396.54 663.53 L394.69 661.69Z M397.16 659.54 L399.01 661.39 L400.85 659.54 L402.7 661.39 L400.85 663.23 L402.7 665.07 L400.85 666.92 L399.01 665.07 L397.16 666.92 L395.32 665.07 L397.16 663.23 L395.32 661.39Z M397.79 658.67 L399.63 660.51 L401.48 658.67 L403.32 660.51 L401.48 662.36 L403.32 664.2 L401.48 666.04 L399.63 664.2 L397.79 666.04 L395.95 664.2 L397.79 662.36 L395.95 660.51Z M398.42 658.06 L400.26 659.9 L402.11 658.06 L403.95 659.9 L402.11 661.74 L403.95 663.59 L402.11 665.43 L400.26 663.59 L398.42 665.43 L396.57 663.59 L398.42 661.74 L396.57 659.9Z M399.05 657.25 L400.89 659.1 L402.73 657.25 L404.58 659.1 L402.73 660.94 L404.58 662.79 L402.73 664.63 L400.89 662.79 L399.05 664.63 L397.2 662.79 L399.05 660.94 L397.2 659.1Z M399.67 656.82 L401.52 658.66 L403.36 656.82 L405.2 658.66 L403.36 660.5 L405.2 662.35 L403.36 664.19 L401.52 662.35 L399.67 664.19 L397.83 662.35 L399.67 660.5 L397.83 658.66Z M400.3 655.91 L402.14 657.76 L403.99 655.91 L405.83 657.76 L403.99 659.6 L405.83 661.45 L403.99 663.29 L402.14 661.45 L400.3 663.29 L398.46 661.45 L400.3 659.6 L398.46 657.76Z M400.93 655.53 L402.77 657.37 L404.61 655.53 L406.46 657.37 L404.61 659.21 L406.46 661.06 L404.61 662.9 L402.77 661.06 L400.93 662.9 L399.08 661.06 L400.93 659.21 L399.08 657.37Z M401.55 654.71 L403.4 656.55 L405.24 654.71 L407.09 656.55 L405.24 658.4 L407.09 660.24 L405.24 662.08 L403.4 660.24 L401.55 662.08 L399.71 660.24 L401.55 658.4 L399.71 656.55Z M402.18 654.08 L404.03 655.93 L405.87 654.08 L407.71 655.93 L405.87 657.77 L407.71 659.61 L405.87 661.46 L404.03 659.61 L402.18 661.46 L400.34 659.61 L402.18 657.77 L400.34 655.93Z M402.81 653.91 L404.65 655.76 L406.5 653.91 L408.34 655.76 L406.5 657.6 L408.34 659.45 L406.5 661.29 L404.65 659.45 L402.81 661.29 L400.97 659.45 L402.81 657.6 L400.97 655.76Z M403.44 652.95 L405.28 654.79 L407.12 652.95 L408.97 654.79 L407.12 656.63 L408.97 658.48 L407.12 660.32 L405.28 658.48 L403.44 660.32 L401.59 658.48 L403.44 656.63 L401.59 654.79Z M404.06 652.31 L405.91 654.15 L407.75 652.31 L409.59 654.15 L407.75 656 L409.59 657.84 L407.75 659.69 L405.91 657.84 L404.06 659.69 L402.22 657.84 L404.06 656 L402.22 654.15Z M404.69 651.82 L406.53 653.66 L408.38 651.82 L410.22 653.66 L408.38 655.51 L410.22 657.35 L408.38 659.2 L406.53 657.35 L404.69 659.2 L402.85 657.35 L404.69 655.51 L402.85 653.66Z M405.32 651.02 L407.16 652.86 L409.01 651.02 L410.85 652.86 L409.01 654.7 L410.85 656.55 L409.01 658.39 L407.16 656.55 L405.32 658.39 L403.47 656.55 L405.32 654.7 L403.47 652.86Z M405.95 650.67 L407.79 652.52 L409.63 650.67 L411.48 652.52 L409.63 654.36 L411.48 656.2 L409.63 658.05 L407.79 656.2 L405.95 658.05 L404.1 656.2 L405.95 654.36 L404.1 652.52Z M406.57 649.68 L408.42 651.52 L410.26 649.68 L412.1 651.52 L410.26 653.37 L412.1 655.21 L410.26 657.05 L408.42 655.21 L406.57 657.05 L404.73 655.21 L406.57 653.37 L404.73 651.52Z M407.2 649.05 L409.04 650.9 L410.89 649.05 L412.73 650.9 L410.89 652.74 L412.73 654.58 L410.89 656.43 L409.04 654.58 L407.2 656.43 L405.36 654.58 L407.2 652.74 L405.36 650.9Z M407.83 648.45 L409.67 650.3 L411.51 648.45 L413.36 650.3 L411.51 652.14 L413.36 653.99 L411.51 655.83 L409.67 653.99 L407.83 655.83 L405.98 653.99 L407.83 652.14 L405.98 650.3Z M408.45 647.43 L410.3 649.28 L412.14 647.43 L413.99 649.28 L412.14 651.12 L413.99 652.96 L412.14 654.81 L410.3 652.96 L408.45 654.81 L406.61 652.96 L408.45 651.12 L406.61 649.28Z M409.08 647.17 L410.93 649.02 L412.77 647.17 L414.61 649.02 L412.77 650.86 L414.61 652.71 L412.77 654.55 L410.93 652.71 L409.08 654.55 L407.24 652.71 L409.08 650.86 L407.24 649.02Z M409.71 646.59 L411.55 648.43 L413.4 646.59 L415.24 648.43 L413.4 650.28 L415.24 652.12 L413.4 653.97 L411.55 652.12 L409.71 653.97 L407.86 652.12 L409.71 650.28 L407.86 648.43Z M410.34 646.1 L412.18 647.94 L414.02 646.1 L415.87 647.94 L414.02 649.79 L415.87 651.63 L414.02 653.47 L412.18 651.63 L410.34 653.47 L408.49 651.63 L410.34 649.79 L408.49 647.94Z M410.96 645.28 L412.81 647.12 L414.65 645.28 L416.49 647.12 L414.65 648.97 L416.49 650.81 L414.65 652.65 L412.81 650.81 L410.96 652.65 L409.12 650.81 L410.96 648.97 L409.12 647.12Z M411.59 644.88 L413.43 646.72 L415.28 644.88 L417.12 646.72 L415.28 648.56 L417.12 650.41 L415.28 652.25 L413.43 650.41 L411.59 652.25 L409.75 650.41 L411.59 648.56 L409.75 646.72Z M412.22 643.82 L414.06 645.66 L415.9 643.82 L417.75 645.66 L415.9 647.51 L417.75 649.35 L415.9 651.2 L414.06 649.35 L412.22 651.2 L410.37 649.35 L412.22 647.51 L410.37 645.66Z M413.22 643.17 L415.06 645.02 L416.91 643.17 L418.75 645.02 L416.91 646.86 L418.75 648.71 L416.91 650.55 L415.06 648.71 L413.22 650.55 L411.38 648.71 L413.22 646.86 L411.38 645.02Z M414.22 642 L416.07 643.84 L417.91 642 L419.76 643.84 L417.91 645.69 L419.76 647.53 L417.91 649.37 L416.07 647.53 L414.22 649.37 L412.38 647.53 L414.22 645.69 L412.38 643.84Z M415.23 640.6 L417.07 642.44 L418.92 640.6 L420.76 642.44 L418.92 644.29 L420.76 646.13 L418.92 647.97 L417.07 646.13 L415.23 647.97 L413.38 646.13 L415.23 644.29 L413.38 642.44Z M416.23 639.75 L418.08 641.59 L419.92 639.75 L421.76 641.59 L419.92 643.44 L421.76 645.28 L419.92 647.12 L418.08 645.28 L416.23 647.12 L414.39 645.28 L416.23 643.44 L414.39 641.59Z M417.24 638.93 L419.08 640.77 L420.92 638.93 L422.77 640.77 L420.92 642.62 L422.77 644.46 L420.92 646.3 L419.08 644.46 L417.24 646.3 L415.39 644.46 L417.24 642.62 L415.39 640.77Z M418.24 637.65 L420.08 639.5 L421.93 637.65 L423.77 639.5 L421.93 641.34 L423.77 643.18 L421.93 645.03 L420.08 643.18 L418.24 645.03 L416.39 643.18 L418.24 641.34 L416.39 639.5Z M419.24 636.96 L421.09 638.81 L422.93 636.96 L424.77 638.81 L422.93 640.65 L424.77 642.49 L422.93 644.34 L421.09 642.49 L419.24 644.34 L417.4 642.49 L419.24 640.65 L417.4 638.81Z M420.25 635.74 L422.09 637.59 L423.93 635.74 L425.78 637.59 L423.93 639.43 L425.78 641.28 L423.93 643.12 L422.09 641.28 L420.25 643.12 L418.4 641.28 L420.25 639.43 L418.4 637.59Z M421.25 634.91 L423.09 636.76 L424.94 634.91 L426.78 636.76 L424.94 638.6 L426.78 640.45 L424.94 642.29 L423.09 640.45 L421.25 642.29 L419.41 640.45 L421.25 638.6 L419.41 636.76Z M422.25 634.13 L424.1 635.97 L425.94 634.13 L427.78 635.97 L425.94 637.82 L427.78 639.66 L425.94 641.51 L424.1 639.66 L422.25 641.51 L420.41 639.66 L422.25 637.82 L420.41 635.97Z M423.26 632.78 L425.1 634.62 L426.94 632.78 L428.79 634.62 L426.94 636.46 L428.79 638.31 L426.94 640.15 L425.1 638.31 L423.26 640.15 L421.41 638.31 L423.26 636.46 L421.41 634.62Z M426.77 629.08 L428.61 630.92 L430.46 629.08 L432.3 630.92 L430.46 632.76 L432.3 634.61 L430.46 636.45 L428.61 634.61 L426.77 636.45 L424.93 634.61 L426.77 632.76 L424.93 630.92Z M428.53 627.3 L430.37 629.14 L432.21 627.3 L434.06 629.14 L432.21 630.99 L434.06 632.83 L432.21 634.67 L430.37 632.83 L428.53 634.67 L426.68 632.83 L428.53 630.99 L426.68 629.14Z M431.79 624 L433.63 625.84 L435.47 624 L437.32 625.84 L435.47 627.68 L437.32 629.53 L435.47 631.37 L433.63 629.53 L431.79 631.37 L429.94 629.53 L431.79 627.68 L429.94 625.84Z M434.55 621.46 L436.39 623.3 L438.23 621.46 L440.08 623.3 L438.23 625.14 L440.08 626.99 L438.23 628.83 L436.39 626.99 L434.55 628.83 L432.7 626.99 L434.55 625.14 L432.7 623.3Z M440.07 615.36 L441.91 617.2 L443.75 615.36 L445.6 617.2 L443.75 619.05 L445.6 620.89 L443.75 622.74 L441.91 620.89 L440.07 622.74 L438.22 620.89 L440.07 619.05 L438.22 617.2Z M441.82 614.09 L443.67 615.93 L445.51 614.09 L447.35 615.93 L445.51 617.78 L447.35 619.62 L445.51 621.47 L443.67 619.62 L441.82 621.47 L439.98 619.62 L441.82 617.78 L439.98 615.93Z M456.12 600.37 L457.97 602.22 L459.81 600.37 L461.65 602.22 L459.81 604.06 L461.65 605.91 L459.81 607.75 L457.97 605.91 L456.12 607.75 L454.28 605.91 L456.12 604.06 L454.28 602.22Z M461.14 594.02 L462.98 595.87 L464.83 594.02 L466.67 595.87 L464.83 597.71 L466.67 599.56 L464.83 601.4 L462.98 599.56 L461.14 601.4 L459.3 599.56 L461.14 597.71 L459.3 595.87Z M464.15 590.47 L466 592.31 L467.84 590.47 L469.68 592.31 L467.84 594.16 L469.68 596 L467.84 597.84 L466 596 L464.15 597.84 L462.31 596 L464.15 594.16 L462.31 592.31Z M479.46 576.5 L481.3 578.34 L483.14 576.5 L484.99 578.34 L483.14 580.19 L484.99 582.03 L483.14 583.87 L481.3 582.03 L479.46 583.87 L477.61 582.03 L479.46 580.19 L477.61 578.34Z M488.74 566.08 L490.58 567.93 L492.43 566.08 L494.27 567.93 L492.43 569.77 L494.27 571.62 L492.43 573.46 L490.58 571.62 L488.74 573.46 L486.89 571.62 L488.74 569.77 L486.89 567.93Z M492.25 562.53 L494.09 564.37 L495.94 562.53 L497.78 564.37 L495.94 566.22 L497.78 568.06 L495.94 569.9 L494.09 568.06 L492.25 569.9 L490.41 568.06 L492.25 566.22 L490.41 564.37Z M505.3 549.57 L507.14 551.42 L508.98 549.57 L510.83 551.42 L508.98 553.26 L510.83 555.11 L508.98 556.95 L507.14 555.11 L505.3 556.95 L503.45 555.11 L505.3 553.26 L503.45 551.42Z M514.58 539.67 L516.42 541.51 L518.27 539.67 L520.11 541.51 L518.27 543.36 L520.11 545.2 L518.27 547.04 L516.42 545.2 L514.58 547.04 L512.74 545.2 L514.58 543.36 L512.74 541.51Z M550.46 503.85 L552.3 505.7 L554.14 503.85 L555.99 505.7 L554.14 507.54 L555.99 509.39 L554.14 511.23 L552.3 509.39 L550.46 511.23 L548.61 509.39 L550.46 507.54 L548.61 505.7Z" fill="#008080" stroke="#008080" stroke-width="0.7" stroke-linejoin="round"/>
<path d="M383.2 675.25 L384.04 677.84 L386.76 677.84 L384.56 679.43 L385.4 682.02 L383.2 680.42 L381 682.02 L381.84 679.43 L379.65 677.84 L382.36 677.84Z M383.33 675 L384.17 677.58 L386.88 677.58 L384.69 679.18 L385.52 681.76 L383.33 680.17 L381.13 681.76 L381.97 679.18 L379.77 677.58 L382.49 677.58Z M383.45 675 L384.29 677.58 L387.01 677.58 L384.81 679.18 L385.65 681.76 L383.45 680.17 L381.26 681.76 L382.09 679.18 L379.9 677.58 L382.61 677.58Z M383.58 674.75 L384.42 677.33 L387.13 677.33 L384.94 678.93 L385.78 681.51 L383.58 679.91 L381.38 681.51 L382.22 678.93 L380.02 677.33 L382.74 677.33Z M383.7 674.62 L384.54 677.2 L387.26 677.2 L385.06 678.8 L385.9 681.38 L383.7 679.78 L381.51 681.38 L382.35 678.8 L380.15 677.2 L382.86 677.2Z M383.95 674.49 L384.79 677.07 L387.51 677.07 L385.31 678.67 L386.15 681.25 L383.95 679.66 L381.76 681.25 L382.6 678.67 L380.4 677.07 L383.12 677.07Z M384.21 674.11 L385.04 676.69 L387.76 676.69 L385.56 678.29 L386.4 680.87 L384.21 679.28 L382.01 680.87 L382.85 678.29 L380.65 676.69 L383.37 676.69Z M384.46 673.98 L385.3 676.57 L388.01 676.57 L385.81 678.16 L386.65 680.75 L384.46 679.15 L382.26 680.75 L383.1 678.16 L380.9 676.57 L383.62 676.57Z M384.71 673.6 L385.55 676.19 L388.26 676.19 L386.07 677.78 L386.9 680.37 L384.71 678.77 L382.51 680.37 L383.35 677.78 L381.15 676.19 L383.87 676.19Z M384.96 673.48 L385.8 676.06 L388.51 676.06 L386.32 677.66 L387.16 680.24 L384.96 678.64 L382.76 680.24 L383.6 677.66 L381.4 676.06 L384.12 676.06Z M385.21 672.97 L386.05 675.55 L388.76 675.55 L386.57 677.15 L387.41 679.73 L385.21 678.13 L383.01 679.73 L383.85 677.15 L381.65 675.55 L384.37 675.55Z M386.71 672.21 L387.55 674.79 L390.27 674.79 L388.07 676.39 L388.91 678.97 L386.71 677.37 L384.52 678.97 L385.36 676.39 L383.16 674.79 L385.87 674.79Z M391.73 666.36 L392.57 668.95 L395.29 668.95 L393.09 670.54 L393.93 673.13 L391.73 671.53 L389.53 673.13 L390.37 670.54 L388.18 668.95 L390.89 668.95Z M392.23 665.86 L393.07 668.44 L395.79 668.44 L393.59 670.04 L394.43 672.62 L392.23 671.02 L390.04 672.62 L390.88 670.04 L388.68 668.44 L391.39 668.44Z M392.36 665.6 L393.2 668.18 L395.91 668.18 L393.72 669.78 L394.56 672.36 L392.36 670.77 L390.16 672.36 L391 669.78 L388.8 668.18 L391.52 668.18Z M392.74 665.35 L393.57 667.93 L396.29 667.93 L394.09 669.53 L394.93 672.11 L392.74 670.51 L390.54 672.11 L391.38 669.53 L389.18 667.93 L391.9 667.93Z M418.83 638.68 L419.67 641.26 L422.38 641.26 L420.19 642.86 L421.03 645.44 L418.83 643.84 L416.63 645.44 L417.47 642.86 L415.27 641.26 L417.99 641.26Z M424.1 633.09 L424.94 635.67 L427.65 635.67 L425.45 637.27 L426.29 639.85 L424.1 638.26 L421.9 639.85 L422.74 637.27 L420.54 635.67 L423.26 635.67Z M442.66 615.31 L443.5 617.89 L446.22 617.89 L444.02 619.49 L444.86 622.07 L442.66 620.48 L440.47 622.07 L441.3 619.49 L439.11 617.89 L441.82 617.89Z M456.21 602.1 L457.05 604.68 L459.77 604.68 L457.57 606.28 L458.41 608.86 L456.21 607.27 L454.01 608.86 L454.85 606.28 L452.66 604.68 L455.37 604.68Z M457.97 600.58 L458.81 603.16 L461.52 603.16 L459.32 604.76 L460.16 607.34 L457.97 605.74 L455.77 607.34 L456.61 604.76 L454.41 603.16 L457.13 603.16Z M483.06 576.19 L483.89 578.78 L486.61 578.78 L484.41 580.37 L485.25 582.96 L483.06 581.36 L480.86 582.96 L481.7 580.37 L479.5 578.78 L482.22 578.78Z M509.65 547.49 L510.49 550.07 L513.2 550.07 L511.01 551.67 L511.85 554.25 L509.65 552.66 L507.45 554.25 L508.29 551.67 L506.09 550.07 L508.81 550.07Z M540.76 512.69 L541.6 515.28 L544.32 515.28 L542.12 516.87 L542.96 519.46 L540.76 517.86 L538.56 519.46 L539.4 516.87 L537.2 515.28 L539.92 515.28Z M565.6 483.99 L566.44 486.57 L569.15 486.57 L566.96 488.17 L567.8 490.75 L565.6 489.16 L563.4 490.75 L564.24 488.17 L562.04 486.57 L564.76 486.57Z" fill="#00ff00" stroke="#00ff00" stroke-width="0.3"/>
<line x1="382.7" y1="679.5" x2="608.5" y2="450.9" stroke="#000" stroke-width="1.2" stroke-dasharray="4.3 2.2"/>
</g>
<line x1="382.7" y1="450.4" x2="382.7" y2="680" stroke="#000" stroke-opacity="0.55" stroke-width="1.0"/>
<line x1="382.2" y1="450.9" x2="609" y2="450.9" stroke="#000" stroke-opacity="0.42" stroke-width="1.0"/>
<line x1="608.5" y1="450.4" x2="608.5" y2="680" stroke="#000" stroke-opacity="0.55" stroke-width="1.0"/>
<line x1="382.2" y1="679.5" x2="609" y2="679.5" stroke="#000" stroke-opacity="0.55" stroke-width="1.0"/>
<path d="M382.7 679.5h-2.3 M382.7 654.1h-2.3 M382.7 628.7h-2.3 M382.7 603.3h-2.3 M382.7 577.9h-2.3 M382.7 552.5h-2.3 M382.7 527.1h-2.3 M382.7 501.7h-2.3 M382.7 476.3h-2.3 M382.7 450.9h-2.3 M382.7 679.5v2.3 M432.88 679.5v2.3 M483.06 679.5v2.3 M533.23 679.5v2.3 M583.41 679.5v2.3" stroke="#000" stroke-opacity="0.85" stroke-width="0.8" fill="none"/>
<g font-size="9.29" fill="#000">
<text x="379.1" y="683.37" text-anchor="end">0</text>
<text x="379.1" y="657.97" text-anchor="end">100</text>
<text x="379.1" y="632.57" text-anchor="end">200</text>
<text x="379.1" y="607.17" text-anchor="end">300</text>
<text x="379.1" y="581.77" text-anchor="end">400</text>
<text x="379.1" y="556.37" text-anchor="end">500</text>
<text x="379.1" y="530.97" text-anchor="end">600</text>
<text x="379.1" y="505.57" text-anchor="end">700</text>
<text x="379.1" y="480.17" text-anchor="end">800</text>
<text x="379.1" y="454.77" text-anchor="end">900</text>
<text x="382.7" y="690.82" text-anchor="middle">0</text>
<text x="432.88" y="690.82" text-anchor="middle">200</text>
<text x="483.06" y="690.82" text-anchor="middle">400</text>
<text x="533.23" y="690.82" text-anchor="middle">600</text>
<text x="583.41" y="690.82" text-anchor="middle">800</text>
</g>
<text x="495.6" y="703.64" text-anchor="middle" font-size="12.12" fill="#000">Experimental Viscosity (mPa.s)</text>
<text transform="translate(360.27 565.2) rotate(-90)" text-anchor="middle" font-size="12.12" fill="#000">Predicted Values</text>
<text x="599.3" y="669.2" text-anchor="end" font-size="13.44" fill="#000">MLP</text>
<rect x="386.94" y="455.34" width="75.37" height="26.27" rx="1.2" fill="#fff" fill-opacity="0.8" stroke="#d9d9d9" stroke-width="0.6"/>
<path d="M397 458.97 L398.86 460.84 L400.73 458.97 L402.6 460.84 L400.73 462.71 L402.6 464.58 L400.73 466.45 L398.86 464.58 L397 466.45 L395.13 464.58 L397 462.71 L395.13 460.84Z" fill="#008080" stroke="#008080" stroke-width="0.7" stroke-linejoin="round"/>
<path d="M398.86 470.69 L399.75 473.42 L402.61 473.42 L400.3 475.1 L401.18 477.82 L398.86 476.14 L396.55 477.82 L397.43 475.1 L395.12 473.42 L397.98 473.42Z" fill="#00ff00" stroke="#00ff00" stroke-width="0.5" stroke-linejoin="round"/>
<text x="414.02" y="464.89" font-size="8.39" fill="#000">Training data</text>
<text x="414.02" y="477.02" font-size="8.39" fill="#000">Test data</text>
</g>
</svg></body></html>
